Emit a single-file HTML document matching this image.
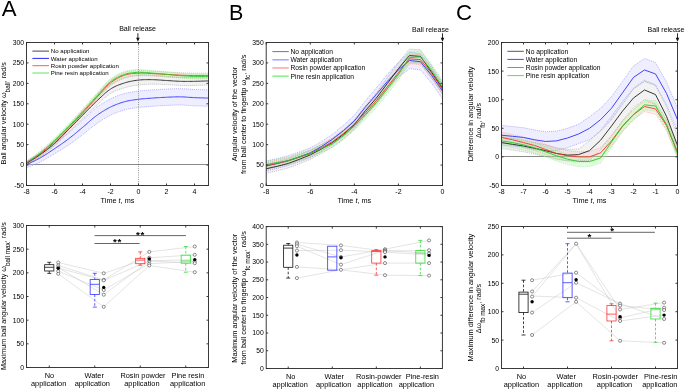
<!DOCTYPE html>
<html><head><meta charset="utf-8"><style>
html,body{margin:0;padding:0;background:#fff}
body{width:685px;height:390px;overflow:hidden}
svg{display:block;filter:blur(0.3px)}
text{font-family:"Liberation Sans", sans-serif;fill:#000}
</style></head><body>
<svg width="685" height="390" viewBox="0 0 685 390">
<rect width="685" height="390" fill="#fff"/>
<line x1="26.5" y1="164.5" x2="208.5" y2="164.5" stroke="#8a8a8a" stroke-width="1"/>
<polygon points="26.5,161.39 27.18,161.03 28.02,160.57 29.02,160.05 30.13,159.46 31.34,158.81 32.62,158.13 33.96,157.4 35.31,156.66 36.67,155.9 38,155.13 39.29,154.37 40.5,153.63 41.67,152.89 42.83,152.12 44,151.34 45.17,150.54 46.33,149.73 47.5,148.91 48.67,148.07 49.83,147.23 51,146.38 52.17,145.53 53.33,144.68 54.5,143.83 55.67,142.94 56.83,142.05 58,141.16 59.17,140.27 60.33,139.37 61.5,138.46 62.67,137.55 63.83,136.62 65,135.69 66.17,134.74 67.33,133.77 68.5,132.79 69.67,131.8 70.83,130.78 72,129.75 73.17,128.71 74.33,127.65 75.5,126.59 76.67,125.52 77.83,124.44 79,123.36 80.17,122.28 81.33,121.2 82.5,120.13 83.67,119.08 84.83,118 86,116.91 87.17,115.82 88.33,114.71 89.5,113.62 90.67,112.53 91.83,111.46 93,110.41 94.17,109.39 95.33,108.41 96.5,107.46 97.67,106.62 98.83,105.81 100,105.01 101.17,104.24 102.33,103.49 103.5,102.76 104.67,102.06 105.83,101.38 107,100.72 108.17,100.09 109.33,99.47 110.5,98.88 111.67,98.32 112.83,97.78 114,97.26 115.17,96.76 116.33,96.29 117.5,95.84 118.67,95.42 119.83,95.01 121,94.62 122.17,94.25 123.33,93.9 124.5,93.57 125.67,93.26 126.83,92.98 128,92.73 129.17,92.5 130.33,92.29 131.5,92.09 132.67,91.91 133.83,91.74 135,91.58 136.17,91.42 137.33,91.27 138.5,91.12 139.67,90.97 140.83,90.84 142,90.72 143.17,90.61 144.33,90.5 145.5,90.41 146.67,90.31 147.83,90.23 149,90.14 150.17,90.06 151.33,89.98 152.5,89.89 153.67,89.81 154.83,89.73 156,89.65 157.17,89.58 158.33,89.5 159.5,89.43 160.67,89.37 161.83,89.3 163,89.24 164.17,89.18 165.33,89.13 166.5,89.08 167.67,89.02 168.83,88.97 170,88.92 171.17,88.87 172.33,88.82 173.5,88.77 174.67,88.73 175.83,88.7 177,88.67 178.17,88.66 179.33,88.66 180.5,88.67 181.67,88.7 182.83,88.74 184,88.8 185.17,88.87 186.33,88.94 187.5,89.03 188.67,89.11 189.83,89.2 191,89.28 192.17,89.36 193.33,89.43 194.5,89.49 195.83,89.54 197.23,89.59 198.7,89.64 200.18,89.68 201.65,89.72 203.08,89.76 204.44,89.79 205.69,89.82 206.81,89.85 207.75,89.87 208.5,89.89 208.5,106.24 207.75,106.22 206.81,106.19 205.69,106.17 204.44,106.14 203.08,106.1 201.65,106.06 200.18,106.02 198.7,105.98 197.23,105.93 195.83,105.88 194.5,105.83 193.33,105.77 192.17,105.7 191,105.62 189.83,105.54 188.67,105.45 187.5,105.37 186.33,105.29 185.17,105.21 184,105.14 182.83,105.08 181.67,105.04 180.5,105.01 179.33,105 178.17,105 177,105.02 175.83,105.04 174.67,105.07 173.5,105.11 172.33,105.16 171.17,105.21 170,105.26 168.83,105.31 167.67,105.37 166.5,105.42 165.33,105.47 164.17,105.53 163,105.59 161.83,105.65 160.67,105.71 159.5,105.78 158.33,105.85 157.17,105.92 156,105.99 154.83,106.07 153.67,106.15 152.5,106.24 151.33,106.32 150.17,106.4 149,106.49 147.83,106.57 146.67,106.66 145.5,106.75 144.33,106.84 143.17,106.95 142,107.06 140.83,107.18 139.67,107.32 138.5,107.46 137.33,107.62 136.17,107.77 135,107.92 133.83,108.08 132.67,108.25 131.5,108.43 130.33,108.63 129.17,108.84 128,109.07 126.83,109.33 125.67,109.61 124.5,109.91 123.33,110.25 122.17,110.6 121,110.96 119.83,111.35 118.67,111.76 117.5,112.19 116.33,112.64 115.17,113.11 114,113.6 112.83,114.12 111.67,114.66 110.5,115.23 109.33,115.82 108.17,116.43 107,117.06 105.83,117.72 104.67,118.4 103.5,119.11 102.33,119.83 101.17,120.58 100,121.35 98.83,122.15 97.67,122.97 96.5,123.81 95.33,124.61 94.17,125.46 93,126.34 91.83,127.26 90.67,128.19 89.5,129.14 88.33,130.1 87.17,131.07 86,132.03 84.83,132.98 83.67,133.92 82.5,134.84 81.33,135.71 80.17,136.58 79,137.46 77.83,138.33 76.67,139.2 75.5,140.07 74.33,140.93 73.17,141.78 72,142.62 70.83,143.45 69.67,144.26 68.5,145.05 67.33,145.83 66.17,146.59 65,147.33 63.83,148.06 62.67,148.78 61.5,149.49 60.33,150.2 59.17,150.89 58,151.58 56.83,152.27 55.67,152.95 54.5,153.63 53.33,154.35 52.17,155.06 51,155.78 49.83,156.49 48.67,157.2 47.5,157.9 46.33,158.58 45.17,159.26 44,159.92 42.83,160.57 41.67,161.2 40.5,161.8 39.29,162.4 38,163.01 36.67,163.62 35.31,164.22 33.96,164.81 32.62,165.38 31.34,165.92 30.13,166.42 29.02,166.88 28.02,167.29 27.18,167.64 26.5,167.93" fill="rgba(205,205,255,0.35)" stroke="none"/>
<polygon points="26.5,161.8 27.18,161.36 28.02,160.8 29.02,160.16 30.13,159.44 31.34,158.66 32.62,157.82 33.96,156.94 35.31,156.04 36.67,155.12 38,154.2 39.29,153.29 40.5,152.41 41.67,151.53 42.83,150.65 44,149.76 45.17,148.85 46.33,147.93 47.5,146.99 48.67,146.04 49.83,145.07 51,144.07 52.17,143.06 53.33,142.03 54.5,140.97 55.67,139.88 56.83,138.75 58,137.6 59.17,136.43 60.33,135.23 61.5,134.02 62.67,132.8 63.83,131.57 65,130.34 66.17,129.11 67.33,127.88 68.5,126.67 69.67,125.42 70.83,124.17 72,122.91 73.17,121.64 74.33,120.38 75.5,119.11 76.67,117.84 77.83,116.57 79,115.31 80.17,114.05 81.33,112.8 82.5,111.55 83.67,110.34 84.83,109.12 86,107.91 87.17,106.69 88.33,105.48 89.5,104.27 90.67,103.07 91.83,101.88 93,100.7 94.17,99.53 95.33,98.38 96.5,97.25 97.67,96.12 98.83,94.97 100,93.82 101.17,92.68 102.33,91.55 103.5,90.43 104.67,89.34 105.83,88.29 107,87.28 108.17,86.32 109.33,85.42 110.5,84.58 111.67,83.81 112.83,83.1 114,82.44 115.17,81.83 116.33,81.26 117.5,80.73 118.67,80.23 119.83,79.76 121,79.31 122.17,78.88 123.33,78.46 124.5,78.05 125.67,77.69 126.83,77.35 128,77.04 129.17,76.76 130.33,76.5 131.5,76.26 132.67,76.04 133.83,75.84 135,75.65 136.17,75.48 137.33,75.33 138.5,75.19 139.67,75.1 140.83,75.03 142,74.98 143.17,74.96 144.33,74.95 145.5,74.96 146.67,74.97 147.83,75 149,75.04 150.17,75.09 151.33,75.13 152.5,75.19 153.67,75.24 154.83,75.32 156,75.41 157.17,75.5 158.33,75.61 159.5,75.72 160.67,75.84 161.83,75.96 163,76.08 164.17,76.19 165.33,76.31 166.5,76.41 167.67,76.48 168.83,76.56 170,76.63 171.17,76.71 172.33,76.79 173.5,76.87 174.67,76.95 175.83,77.02 177,77.08 178.17,77.14 179.33,77.19 180.5,77.23 181.67,77.26 182.83,77.28 184,77.3 185.17,77.3 186.33,77.31 187.5,77.31 188.67,77.3 189.83,77.29 191,77.28 192.17,77.26 193.33,77.25 194.5,77.23 195.83,77.21 197.23,77.17 198.7,77.14 200.18,77.09 201.65,77.05 203.08,77 204.44,76.96 205.69,76.91 206.81,76.87 207.75,76.84 208.5,76.82 208.5,84.99 207.75,85.01 206.81,85.05 205.69,85.08 204.44,85.13 203.08,85.17 201.65,85.22 200.18,85.26 198.7,85.31 197.23,85.35 195.83,85.38 194.5,85.4 193.33,85.42 192.17,85.43 191,85.45 189.83,85.46 188.67,85.47 187.5,85.48 186.33,85.48 185.17,85.48 184,85.47 182.83,85.45 181.67,85.43 180.5,85.4 179.33,85.36 178.17,85.31 177,85.25 175.83,85.19 174.67,85.12 173.5,85.04 172.33,84.96 171.17,84.89 170,84.81 168.83,84.73 167.67,84.65 166.5,84.58 165.33,84.54 164.17,84.5 163,84.45 161.83,84.4 160.67,84.35 159.5,84.3 158.33,84.26 157.17,84.22 156,84.19 154.83,84.17 153.67,84.17 152.5,84.17 151.33,84.19 150.17,84.21 149,84.23 147.83,84.27 146.67,84.3 145.5,84.35 144.33,84.42 143.17,84.49 142,84.59 140.83,84.7 139.67,84.83 138.5,84.99 137.33,85.13 136.17,85.29 135,85.46 133.83,85.64 132.67,85.84 131.5,86.06 130.33,86.3 129.17,86.57 128,86.85 126.83,87.16 125.67,87.49 124.5,87.85 123.33,88.19 122.17,88.54 121,88.91 119.83,89.29 118.67,89.69 117.5,90.12 116.33,90.59 115.17,91.09 114,91.63 112.83,92.23 111.67,92.87 110.5,93.57 109.33,94.34 108.17,95.17 107,96.06 105.83,97.01 104.67,97.99 103.5,99.01 102.33,100.06 101.17,101.12 100,102.2 98.83,103.28 97.67,104.36 96.5,105.42 95.33,106.49 94.17,107.57 93,108.67 91.83,109.78 90.67,110.9 89.5,112.03 88.33,113.17 87.17,114.32 86,115.47 84.83,116.61 83.67,117.76 82.5,118.9 81.33,120.01 80.17,121.13 79,122.25 77.83,123.38 76.67,124.51 75.5,125.64 74.33,126.78 73.17,127.91 72,129.03 70.83,130.16 69.67,131.28 68.5,132.39 67.33,133.53 66.17,134.69 65,135.85 63.83,137.02 62.67,138.18 61.5,139.33 60.33,140.47 59.17,141.6 58,142.71 56.83,143.79 55.67,144.85 54.5,145.87 53.33,146.86 52.17,147.83 51,148.77 49.83,149.7 48.67,150.6 47.5,151.49 46.33,152.35 45.17,153.21 44,154.05 42.83,154.87 41.67,155.69 40.5,156.49 39.29,157.31 38,158.14 36.67,158.98 35.31,159.82 33.96,160.65 32.62,161.45 31.34,162.21 30.13,162.92 29.02,163.58 28.02,164.16 27.18,164.66 26.5,165.07" fill="rgba(170,170,170,0.15)" stroke="none"/>
<polygon points="26.5,161.39 27.18,160.93 28.02,160.36 29.02,159.69 30.13,158.94 31.34,158.13 32.62,157.26 33.96,156.34 35.31,155.4 36.67,154.44 38,153.48 39.29,152.52 40.5,151.59 41.67,150.66 42.83,149.71 44,148.74 45.17,147.76 46.33,146.76 47.5,145.74 48.67,144.71 49.83,143.66 51,142.6 52.17,141.52 53.33,140.43 54.5,139.33 55.67,138.25 56.83,137.14 58,136.02 59.17,134.88 60.33,133.73 61.5,132.56 62.67,131.39 63.83,130.21 65,129.02 66.17,127.83 67.33,126.63 68.5,125.44 69.67,124.21 70.83,122.98 72,121.74 73.17,120.49 74.33,119.24 75.5,117.98 76.67,116.72 77.83,115.45 79,114.18 80.17,112.9 81.33,111.61 82.5,110.32 83.67,109.06 84.83,107.77 86,106.48 87.17,105.18 88.33,103.87 89.5,102.56 90.67,101.25 91.83,99.94 93,98.64 94.17,97.35 95.33,96.06 96.5,94.8 97.67,93.52 98.83,92.22 100,90.9 101.17,89.58 102.33,88.26 103.5,86.96 104.67,85.68 105.83,84.45 107,83.26 108.17,82.13 109.33,81.07 110.5,80.09 111.67,79.18 112.83,78.33 114,77.53 115.17,76.77 116.33,76.07 117.5,75.42 118.67,74.8 119.83,74.23 121,73.7 122.17,73.21 123.33,72.75 124.5,72.33 125.67,71.98 126.83,71.69 128,71.46 129.17,71.27 130.33,71.12 131.5,71 132.67,70.91 133.83,70.84 135,70.79 136.17,70.76 137.33,70.72 138.5,70.69 139.67,70.64 140.83,70.61 142,70.61 143.17,70.63 144.33,70.67 145.5,70.72 146.67,70.78 147.83,70.84 149,70.91 150.17,70.98 151.33,71.04 152.5,71.1 153.67,71.15 154.83,71.21 156,71.28 157.17,71.34 158.33,71.41 159.5,71.48 160.67,71.56 161.83,71.63 163,71.7 164.17,71.78 165.33,71.85 166.5,71.92 167.67,71.99 168.83,72.06 170,72.13 171.17,72.2 172.33,72.28 173.5,72.35 174.67,72.42 175.83,72.49 177,72.56 178.17,72.62 179.33,72.68 180.5,72.73 181.67,72.78 182.83,72.83 184,72.87 185.17,72.92 186.33,72.95 187.5,72.99 188.67,73.02 189.83,73.05 191,73.08 192.17,73.1 193.33,73.12 194.5,73.14 195.83,73.16 197.23,73.17 198.7,73.17 200.18,73.17 201.65,73.17 203.08,73.17 204.44,73.16 205.69,73.15 206.81,73.15 207.75,73.14 208.5,73.14 208.5,78.05 207.75,78.05 206.81,78.05 205.69,78.06 204.44,78.06 203.08,78.07 201.65,78.07 200.18,78.08 198.7,78.08 197.23,78.07 195.83,78.06 194.5,78.05 193.33,78.03 192.17,78.01 191,77.98 189.83,77.95 188.67,77.93 187.5,77.89 186.33,77.86 185.17,77.82 184,77.78 182.83,77.73 181.67,77.69 180.5,77.64 179.33,77.58 178.17,77.52 177,77.46 175.83,77.4 174.67,77.33 173.5,77.25 172.33,77.18 171.17,77.11 170,77.03 168.83,76.96 167.67,76.89 166.5,76.82 165.33,76.75 164.17,76.68 163,76.61 161.83,76.53 160.67,76.46 159.5,76.39 158.33,76.31 157.17,76.24 156,76.18 154.83,76.12 153.67,76.06 152.5,76 151.33,75.95 150.17,75.88 149,75.81 147.83,75.75 146.67,75.68 145.5,75.62 144.33,75.57 143.17,75.53 142,75.51 140.83,75.52 139.67,75.54 138.5,75.59 137.33,75.69 136.17,75.79 135,75.9 133.83,76.02 132.67,76.15 131.5,76.31 130.33,76.49 129.17,76.71 128,76.97 126.83,77.28 125.67,77.63 124.5,78.05 123.33,78.47 122.17,78.93 121,79.42 119.83,79.95 118.67,80.52 117.5,81.14 116.33,81.79 115.17,82.49 114,83.25 112.83,84.05 111.67,84.9 110.5,85.81 109.33,86.79 108.17,87.85 107,88.98 105.83,90.17 104.67,91.4 103.5,92.68 102.33,93.98 101.17,95.3 100,96.62 98.83,97.94 97.67,99.24 96.5,100.52 95.33,101.78 94.17,103.07 93,104.36 91.83,105.66 90.67,106.97 89.5,108.28 88.33,109.59 87.17,110.9 86,112.2 84.83,113.49 83.67,114.78 82.5,116.04 81.33,117.27 80.17,118.48 79,119.69 77.83,120.9 76.67,122.1 75.5,123.3 74.33,124.48 73.17,125.67 72,126.84 70.83,128.02 69.67,129.18 68.5,130.34 67.33,131.54 66.17,132.73 65,133.92 63.83,135.11 62.67,136.29 61.5,137.47 60.33,138.63 59.17,139.79 58,140.92 56.83,142.05 55.67,143.15 54.5,144.23 53.33,145.27 52.17,146.29 51,147.3 49.83,148.29 48.67,149.27 47.5,150.24 46.33,151.18 45.17,152.12 44,153.03 42.83,153.93 41.67,154.81 40.5,155.67 39.29,156.54 38,157.42 36.67,158.3 35.31,159.18 33.96,160.05 32.62,160.88 31.34,161.68 30.13,162.42 29.02,163.11 28.02,163.71 27.18,164.24 26.5,164.66" fill="rgba(255,170,170,0.25)" stroke="none"/>
<polygon points="26.5,160.99 27.18,160.5 28.02,159.9 29.02,159.21 30.13,158.43 31.34,157.58 32.62,156.67 33.96,155.72 35.31,154.74 36.67,153.74 38,152.73 39.29,151.74 40.5,150.77 41.67,149.81 42.83,148.82 44,147.82 45.17,146.79 46.33,145.75 47.5,144.69 48.67,143.62 49.83,142.54 51,141.44 52.17,140.34 53.33,139.23 54.5,138.11 55.67,137.01 56.83,135.89 58,134.77 59.17,133.63 60.33,132.47 61.5,131.31 62.67,130.14 63.83,128.97 65,127.78 66.17,126.6 67.33,125.41 68.5,124.21 69.67,122.99 70.83,121.75 72,120.51 73.17,119.27 74.33,118.01 75.5,116.76 76.67,115.5 77.83,114.23 79,112.95 80.17,111.67 81.33,110.39 82.5,109.1 83.67,107.83 84.83,106.55 86,105.25 87.17,103.95 88.33,102.64 89.5,101.33 90.67,100.02 91.83,98.72 93,97.41 94.17,96.12 95.33,94.84 96.5,93.57 97.67,92.29 98.83,90.99 100,89.66 101.17,88.34 102.33,87.01 103.5,85.71 104.67,84.43 105.83,83.19 107,82 108.17,80.88 109.33,79.83 110.5,78.86 111.67,77.98 112.83,77.15 114,76.38 115.17,75.67 116.33,75.01 117.5,74.39 118.67,73.82 119.83,73.29 121,72.8 122.17,72.34 123.33,71.91 124.5,71.51 125.67,71.14 126.83,70.83 128,70.56 129.17,70.33 130.33,70.14 131.5,69.98 132.67,69.85 133.83,69.74 135,69.65 136.17,69.58 137.33,69.52 138.5,69.47 139.67,69.47 140.83,69.5 142,69.56 143.17,69.65 144.33,69.75 145.5,69.87 146.67,70.01 147.83,70.15 149,70.29 150.17,70.43 151.33,70.57 152.5,70.69 153.67,70.78 154.83,70.87 156,70.97 157.17,71.07 158.33,71.17 159.5,71.28 160.67,71.39 161.83,71.49 163,71.6 164.17,71.71 165.33,71.81 166.5,71.92 167.67,72.02 168.83,72.13 170,72.23 171.17,72.34 172.33,72.45 173.5,72.56 174.67,72.66 175.83,72.76 177,72.87 178.17,72.96 179.33,73.06 180.5,73.14 181.67,73.23 182.83,73.31 184,73.4 185.17,73.48 186.33,73.55 187.5,73.63 188.67,73.7 189.83,73.76 191,73.82 192.17,73.88 193.33,73.92 194.5,73.96 195.83,73.99 197.23,74.01 198.7,74.02 200.18,74.02 201.65,74.02 203.08,74.01 204.44,73.99 205.69,73.98 206.81,73.97 207.75,73.96 208.5,73.96 208.5,78.86 207.75,78.87 206.81,78.87 205.69,78.88 204.44,78.9 203.08,78.91 201.65,78.92 200.18,78.92 198.7,78.92 197.23,78.91 195.83,78.89 194.5,78.86 193.33,78.82 192.17,78.78 191,78.73 189.83,78.67 188.67,78.6 187.5,78.53 186.33,78.46 185.17,78.38 184,78.3 182.83,78.22 181.67,78.13 180.5,78.05 179.33,77.96 178.17,77.87 177,77.77 175.83,77.67 174.67,77.56 173.5,77.46 172.33,77.35 171.17,77.24 170,77.14 168.83,77.03 167.67,76.92 166.5,76.82 165.33,76.72 164.17,76.61 163,76.5 161.83,76.4 160.67,76.29 159.5,76.18 158.33,76.08 157.17,75.97 156,75.87 154.83,75.77 153.67,75.68 152.5,75.59 151.33,75.54 150.17,75.47 149,75.4 147.83,75.32 146.67,75.25 145.5,75.19 144.33,75.13 143.17,75.09 142,75.08 140.83,75.08 139.67,75.12 138.5,75.19 137.33,75.24 136.17,75.3 135,75.37 133.83,75.46 132.67,75.57 131.5,75.7 130.33,75.86 129.17,76.05 128,76.28 126.83,76.55 125.67,76.86 124.5,77.23 123.33,77.63 122.17,78.06 121,78.52 119.83,79.01 118.67,79.54 117.5,80.11 116.33,80.73 115.17,81.39 114,82.1 112.83,82.87 111.67,83.7 110.5,84.58 109.33,85.55 108.17,86.6 107,87.72 105.83,88.91 104.67,90.15 103.5,91.43 102.33,92.73 101.17,94.06 100,95.38 98.83,96.71 97.67,98.01 96.5,99.29 95.33,100.56 94.17,101.84 93,103.13 91.83,104.44 90.67,105.74 89.5,107.05 88.33,108.36 87.17,109.67 86,110.97 84.83,112.27 83.67,113.55 82.5,114.82 81.33,116.04 80.17,117.26 79,118.47 77.83,119.67 76.67,120.87 75.5,122.07 74.33,123.26 73.17,124.44 72,125.62 70.83,126.79 69.67,127.96 68.5,129.12 67.33,130.31 66.17,131.5 65,132.69 63.83,133.87 62.67,135.05 61.5,136.22 60.33,137.38 59.17,138.53 58,139.67 56.83,140.8 55.67,141.91 54.5,143.01 53.33,144.06 52.17,145.11 51,146.14 49.83,147.17 48.67,148.19 47.5,149.19 46.33,150.18 45.17,151.15 44,152.11 42.83,153.04 41.67,153.96 40.5,154.86 39.29,155.76 38,156.67 36.67,157.6 35.31,158.52 33.96,159.42 32.62,160.3 31.34,161.13 30.13,161.91 29.02,162.62 28.02,163.26 27.18,163.81 26.5,164.25" fill="rgba(150,255,150,0.35)" stroke="none"/>
<polyline points="26.5,161.39 27.18,161.03 28.02,160.57 29.02,160.05 30.13,159.46 31.34,158.81 32.62,158.13 33.96,157.4 35.31,156.66 36.67,155.9 38,155.13 39.29,154.37 40.5,153.63 41.67,152.89 42.83,152.12 44,151.34 45.17,150.54 46.33,149.73 47.5,148.91 48.67,148.07 49.83,147.23 51,146.38 52.17,145.53 53.33,144.68 54.5,143.83 55.67,142.94 56.83,142.05 58,141.16 59.17,140.27 60.33,139.37 61.5,138.46 62.67,137.55 63.83,136.62 65,135.69 66.17,134.74 67.33,133.77 68.5,132.79 69.67,131.8 70.83,130.78 72,129.75 73.17,128.71 74.33,127.65 75.5,126.59 76.67,125.52 77.83,124.44 79,123.36 80.17,122.28 81.33,121.2 82.5,120.13 83.67,119.08 84.83,118 86,116.91 87.17,115.82 88.33,114.71 89.5,113.62 90.67,112.53 91.83,111.46 93,110.41 94.17,109.39 95.33,108.41 96.5,107.46 97.67,106.62 98.83,105.81 100,105.01 101.17,104.24 102.33,103.49 103.5,102.76 104.67,102.06 105.83,101.38 107,100.72 108.17,100.09 109.33,99.47 110.5,98.88 111.67,98.32 112.83,97.78 114,97.26 115.17,96.76 116.33,96.29 117.5,95.84 118.67,95.42 119.83,95.01 121,94.62 122.17,94.25 123.33,93.9 124.5,93.57 125.67,93.26 126.83,92.98 128,92.73 129.17,92.5 130.33,92.29 131.5,92.09 132.67,91.91 133.83,91.74 135,91.58 136.17,91.42 137.33,91.27 138.5,91.12 139.67,90.97 140.83,90.84 142,90.72 143.17,90.61 144.33,90.5 145.5,90.41 146.67,90.31 147.83,90.23 149,90.14 150.17,90.06 151.33,89.98 152.5,89.89 153.67,89.81 154.83,89.73 156,89.65 157.17,89.58 158.33,89.5 159.5,89.43 160.67,89.37 161.83,89.3 163,89.24 164.17,89.18 165.33,89.13 166.5,89.08 167.67,89.02 168.83,88.97 170,88.92 171.17,88.87 172.33,88.82 173.5,88.77 174.67,88.73 175.83,88.7 177,88.67 178.17,88.66 179.33,88.66 180.5,88.67 181.67,88.7 182.83,88.74 184,88.8 185.17,88.87 186.33,88.94 187.5,89.03 188.67,89.11 189.83,89.2 191,89.28 192.17,89.36 193.33,89.43 194.5,89.49 195.83,89.54 197.23,89.59 198.7,89.64 200.18,89.68 201.65,89.72 203.08,89.76 204.44,89.79 205.69,89.82 206.81,89.85 207.75,89.87 208.5,89.89" fill="none" stroke="#8080ff" stroke-width="0.6" stroke-dasharray="1 1"/>
<polyline points="26.5,167.93 27.18,167.64 28.02,167.29 29.02,166.88 30.13,166.42 31.34,165.92 32.62,165.38 33.96,164.81 35.31,164.22 36.67,163.62 38,163.01 39.29,162.4 40.5,161.8 41.67,161.2 42.83,160.57 44,159.92 45.17,159.26 46.33,158.58 47.5,157.9 48.67,157.2 49.83,156.49 51,155.78 52.17,155.06 53.33,154.35 54.5,153.63 55.67,152.95 56.83,152.27 58,151.58 59.17,150.89 60.33,150.2 61.5,149.49 62.67,148.78 63.83,148.06 65,147.33 66.17,146.59 67.33,145.83 68.5,145.05 69.67,144.26 70.83,143.45 72,142.62 73.17,141.78 74.33,140.93 75.5,140.07 76.67,139.2 77.83,138.33 79,137.46 80.17,136.58 81.33,135.71 82.5,134.84 83.67,133.92 84.83,132.98 86,132.03 87.17,131.07 88.33,130.1 89.5,129.14 90.67,128.19 91.83,127.26 93,126.34 94.17,125.46 95.33,124.61 96.5,123.81 97.67,122.97 98.83,122.15 100,121.35 101.17,120.58 102.33,119.83 103.5,119.11 104.67,118.4 105.83,117.72 107,117.06 108.17,116.43 109.33,115.82 110.5,115.23 111.67,114.66 112.83,114.12 114,113.6 115.17,113.11 116.33,112.64 117.5,112.19 118.67,111.76 119.83,111.35 121,110.96 122.17,110.6 123.33,110.25 124.5,109.91 125.67,109.61 126.83,109.33 128,109.07 129.17,108.84 130.33,108.63 131.5,108.43 132.67,108.25 133.83,108.08 135,107.92 136.17,107.77 137.33,107.62 138.5,107.46 139.67,107.32 140.83,107.18 142,107.06 143.17,106.95 144.33,106.84 145.5,106.75 146.67,106.66 147.83,106.57 149,106.49 150.17,106.4 151.33,106.32 152.5,106.24 153.67,106.15 154.83,106.07 156,105.99 157.17,105.92 158.33,105.85 159.5,105.78 160.67,105.71 161.83,105.65 163,105.59 164.17,105.53 165.33,105.47 166.5,105.42 167.67,105.37 168.83,105.31 170,105.26 171.17,105.21 172.33,105.16 173.5,105.11 174.67,105.07 175.83,105.04 177,105.02 178.17,105 179.33,105 180.5,105.01 181.67,105.04 182.83,105.08 184,105.14 185.17,105.21 186.33,105.29 187.5,105.37 188.67,105.45 189.83,105.54 191,105.62 192.17,105.7 193.33,105.77 194.5,105.83 195.83,105.88 197.23,105.93 198.7,105.98 200.18,106.02 201.65,106.06 203.08,106.1 204.44,106.14 205.69,106.17 206.81,106.19 207.75,106.22 208.5,106.24" fill="none" stroke="#8080ff" stroke-width="0.6" stroke-dasharray="1 1"/>
<polyline points="26.5,161.8 27.18,161.36 28.02,160.8 29.02,160.16 30.13,159.44 31.34,158.66 32.62,157.82 33.96,156.94 35.31,156.04 36.67,155.12 38,154.2 39.29,153.29 40.5,152.41 41.67,151.53 42.83,150.65 44,149.76 45.17,148.85 46.33,147.93 47.5,146.99 48.67,146.04 49.83,145.07 51,144.07 52.17,143.06 53.33,142.03 54.5,140.97 55.67,139.88 56.83,138.75 58,137.6 59.17,136.43 60.33,135.23 61.5,134.02 62.67,132.8 63.83,131.57 65,130.34 66.17,129.11 67.33,127.88 68.5,126.67 69.67,125.42 70.83,124.17 72,122.91 73.17,121.64 74.33,120.38 75.5,119.11 76.67,117.84 77.83,116.57 79,115.31 80.17,114.05 81.33,112.8 82.5,111.55 83.67,110.34 84.83,109.12 86,107.91 87.17,106.69 88.33,105.48 89.5,104.27 90.67,103.07 91.83,101.88 93,100.7 94.17,99.53 95.33,98.38 96.5,97.25 97.67,96.12 98.83,94.97 100,93.82 101.17,92.68 102.33,91.55 103.5,90.43 104.67,89.34 105.83,88.29 107,87.28 108.17,86.32 109.33,85.42 110.5,84.58 111.67,83.81 112.83,83.1 114,82.44 115.17,81.83 116.33,81.26 117.5,80.73 118.67,80.23 119.83,79.76 121,79.31 122.17,78.88 123.33,78.46 124.5,78.05 125.67,77.69 126.83,77.35 128,77.04 129.17,76.76 130.33,76.5 131.5,76.26 132.67,76.04 133.83,75.84 135,75.65 136.17,75.48 137.33,75.33 138.5,75.19 139.67,75.1 140.83,75.03 142,74.98 143.17,74.96 144.33,74.95 145.5,74.96 146.67,74.97 147.83,75 149,75.04 150.17,75.09 151.33,75.13 152.5,75.19 153.67,75.24 154.83,75.32 156,75.41 157.17,75.5 158.33,75.61 159.5,75.72 160.67,75.84 161.83,75.96 163,76.08 164.17,76.19 165.33,76.31 166.5,76.41 167.67,76.48 168.83,76.56 170,76.63 171.17,76.71 172.33,76.79 173.5,76.87 174.67,76.95 175.83,77.02 177,77.08 178.17,77.14 179.33,77.19 180.5,77.23 181.67,77.26 182.83,77.28 184,77.3 185.17,77.3 186.33,77.31 187.5,77.31 188.67,77.3 189.83,77.29 191,77.28 192.17,77.26 193.33,77.25 194.5,77.23 195.83,77.21 197.23,77.17 198.7,77.14 200.18,77.09 201.65,77.05 203.08,77 204.44,76.96 205.69,76.91 206.81,76.87 207.75,76.84 208.5,76.82" fill="none" stroke="#999" stroke-width="0.6" stroke-dasharray="1 1"/>
<polyline points="26.5,165.07 27.18,164.66 28.02,164.16 29.02,163.58 30.13,162.92 31.34,162.21 32.62,161.45 33.96,160.65 35.31,159.82 36.67,158.98 38,158.14 39.29,157.31 40.5,156.49 41.67,155.69 42.83,154.87 44,154.05 45.17,153.21 46.33,152.35 47.5,151.49 48.67,150.6 49.83,149.7 51,148.77 52.17,147.83 53.33,146.86 54.5,145.87 55.67,144.85 56.83,143.79 58,142.71 59.17,141.6 60.33,140.47 61.5,139.33 62.67,138.18 63.83,137.02 65,135.85 66.17,134.69 67.33,133.53 68.5,132.39 69.67,131.28 70.83,130.16 72,129.03 73.17,127.91 74.33,126.78 75.5,125.64 76.67,124.51 77.83,123.38 79,122.25 80.17,121.13 81.33,120.01 82.5,118.9 83.67,117.76 84.83,116.61 86,115.47 87.17,114.32 88.33,113.17 89.5,112.03 90.67,110.9 91.83,109.78 93,108.67 94.17,107.57 95.33,106.49 96.5,105.42 97.67,104.36 98.83,103.28 100,102.2 101.17,101.12 102.33,100.06 103.5,99.01 104.67,97.99 105.83,97.01 107,96.06 108.17,95.17 109.33,94.34 110.5,93.57 111.67,92.87 112.83,92.23 114,91.63 115.17,91.09 116.33,90.59 117.5,90.12 118.67,89.69 119.83,89.29 121,88.91 122.17,88.54 123.33,88.19 124.5,87.85 125.67,87.49 126.83,87.16 128,86.85 129.17,86.57 130.33,86.3 131.5,86.06 132.67,85.84 133.83,85.64 135,85.46 136.17,85.29 137.33,85.13 138.5,84.99 139.67,84.83 140.83,84.7 142,84.59 143.17,84.49 144.33,84.42 145.5,84.35 146.67,84.3 147.83,84.27 149,84.23 150.17,84.21 151.33,84.19 152.5,84.17 153.67,84.17 154.83,84.17 156,84.19 157.17,84.22 158.33,84.26 159.5,84.3 160.67,84.35 161.83,84.4 163,84.45 164.17,84.5 165.33,84.54 166.5,84.58 167.67,84.65 168.83,84.73 170,84.81 171.17,84.89 172.33,84.96 173.5,85.04 174.67,85.12 175.83,85.19 177,85.25 178.17,85.31 179.33,85.36 180.5,85.4 181.67,85.43 182.83,85.45 184,85.47 185.17,85.48 186.33,85.48 187.5,85.48 188.67,85.47 189.83,85.46 191,85.45 192.17,85.43 193.33,85.42 194.5,85.4 195.83,85.38 197.23,85.35 198.7,85.31 200.18,85.26 201.65,85.22 203.08,85.17 204.44,85.13 205.69,85.08 206.81,85.05 207.75,85.01 208.5,84.99" fill="none" stroke="#999" stroke-width="0.6" stroke-dasharray="1 1"/>
<polyline points="26.5,161.39 27.18,160.93 28.02,160.36 29.02,159.69 30.13,158.94 31.34,158.13 32.62,157.26 33.96,156.34 35.31,155.4 36.67,154.44 38,153.48 39.29,152.52 40.5,151.59 41.67,150.66 42.83,149.71 44,148.74 45.17,147.76 46.33,146.76 47.5,145.74 48.67,144.71 49.83,143.66 51,142.6 52.17,141.52 53.33,140.43 54.5,139.33 55.67,138.25 56.83,137.14 58,136.02 59.17,134.88 60.33,133.73 61.5,132.56 62.67,131.39 63.83,130.21 65,129.02 66.17,127.83 67.33,126.63 68.5,125.44 69.67,124.21 70.83,122.98 72,121.74 73.17,120.49 74.33,119.24 75.5,117.98 76.67,116.72 77.83,115.45 79,114.18 80.17,112.9 81.33,111.61 82.5,110.32 83.67,109.06 84.83,107.77 86,106.48 87.17,105.18 88.33,103.87 89.5,102.56 90.67,101.25 91.83,99.94 93,98.64 94.17,97.35 95.33,96.06 96.5,94.8 97.67,93.52 98.83,92.22 100,90.9 101.17,89.58 102.33,88.26 103.5,86.96 104.67,85.68 105.83,84.45 107,83.26 108.17,82.13 109.33,81.07 110.5,80.09 111.67,79.18 112.83,78.33 114,77.53 115.17,76.77 116.33,76.07 117.5,75.42 118.67,74.8 119.83,74.23 121,73.7 122.17,73.21 123.33,72.75 124.5,72.33 125.67,71.98 126.83,71.69 128,71.46 129.17,71.27 130.33,71.12 131.5,71 132.67,70.91 133.83,70.84 135,70.79 136.17,70.76 137.33,70.72 138.5,70.69 139.67,70.64 140.83,70.61 142,70.61 143.17,70.63 144.33,70.67 145.5,70.72 146.67,70.78 147.83,70.84 149,70.91 150.17,70.98 151.33,71.04 152.5,71.1 153.67,71.15 154.83,71.21 156,71.28 157.17,71.34 158.33,71.41 159.5,71.48 160.67,71.56 161.83,71.63 163,71.7 164.17,71.78 165.33,71.85 166.5,71.92 167.67,71.99 168.83,72.06 170,72.13 171.17,72.2 172.33,72.28 173.5,72.35 174.67,72.42 175.83,72.49 177,72.56 178.17,72.62 179.33,72.68 180.5,72.73 181.67,72.78 182.83,72.83 184,72.87 185.17,72.92 186.33,72.95 187.5,72.99 188.67,73.02 189.83,73.05 191,73.08 192.17,73.1 193.33,73.12 194.5,73.14 195.83,73.16 197.23,73.17 198.7,73.17 200.18,73.17 201.65,73.17 203.08,73.17 204.44,73.16 205.69,73.15 206.81,73.15 207.75,73.14 208.5,73.14" fill="none" stroke="#ff9090" stroke-width="0.6" stroke-dasharray="1 1"/>
<polyline points="26.5,164.66 27.18,164.24 28.02,163.71 29.02,163.11 30.13,162.42 31.34,161.68 32.62,160.88 33.96,160.05 35.31,159.18 36.67,158.3 38,157.42 39.29,156.54 40.5,155.67 41.67,154.81 42.83,153.93 44,153.03 45.17,152.12 46.33,151.18 47.5,150.24 48.67,149.27 49.83,148.29 51,147.3 52.17,146.29 53.33,145.27 54.5,144.23 55.67,143.15 56.83,142.05 58,140.92 59.17,139.79 60.33,138.63 61.5,137.47 62.67,136.29 63.83,135.11 65,133.92 66.17,132.73 67.33,131.54 68.5,130.34 69.67,129.18 70.83,128.02 72,126.84 73.17,125.67 74.33,124.48 75.5,123.3 76.67,122.1 77.83,120.9 79,119.69 80.17,118.48 81.33,117.27 82.5,116.04 83.67,114.78 84.83,113.49 86,112.2 87.17,110.9 88.33,109.59 89.5,108.28 90.67,106.97 91.83,105.66 93,104.36 94.17,103.07 95.33,101.78 96.5,100.52 97.67,99.24 98.83,97.94 100,96.62 101.17,95.3 102.33,93.98 103.5,92.68 104.67,91.4 105.83,90.17 107,88.98 108.17,87.85 109.33,86.79 110.5,85.81 111.67,84.9 112.83,84.05 114,83.25 115.17,82.49 116.33,81.79 117.5,81.14 118.67,80.52 119.83,79.95 121,79.42 122.17,78.93 123.33,78.47 124.5,78.05 125.67,77.63 126.83,77.28 128,76.97 129.17,76.71 130.33,76.49 131.5,76.31 132.67,76.15 133.83,76.02 135,75.9 136.17,75.79 137.33,75.69 138.5,75.59 139.67,75.54 140.83,75.52 142,75.51 143.17,75.53 144.33,75.57 145.5,75.62 146.67,75.68 147.83,75.75 149,75.81 150.17,75.88 151.33,75.95 152.5,76 153.67,76.06 154.83,76.12 156,76.18 157.17,76.24 158.33,76.31 159.5,76.39 160.67,76.46 161.83,76.53 163,76.61 164.17,76.68 165.33,76.75 166.5,76.82 167.67,76.89 168.83,76.96 170,77.03 171.17,77.11 172.33,77.18 173.5,77.25 174.67,77.33 175.83,77.4 177,77.46 178.17,77.52 179.33,77.58 180.5,77.64 181.67,77.69 182.83,77.73 184,77.78 185.17,77.82 186.33,77.86 187.5,77.89 188.67,77.93 189.83,77.95 191,77.98 192.17,78.01 193.33,78.03 194.5,78.05 195.83,78.06 197.23,78.07 198.7,78.08 200.18,78.08 201.65,78.07 203.08,78.07 204.44,78.06 205.69,78.06 206.81,78.05 207.75,78.05 208.5,78.05" fill="none" stroke="#ff9090" stroke-width="0.6" stroke-dasharray="1 1"/>
<polyline points="26.5,160.99 27.18,160.5 28.02,159.9 29.02,159.21 30.13,158.43 31.34,157.58 32.62,156.67 33.96,155.72 35.31,154.74 36.67,153.74 38,152.73 39.29,151.74 40.5,150.77 41.67,149.81 42.83,148.82 44,147.82 45.17,146.79 46.33,145.75 47.5,144.69 48.67,143.62 49.83,142.54 51,141.44 52.17,140.34 53.33,139.23 54.5,138.11 55.67,137.01 56.83,135.89 58,134.77 59.17,133.63 60.33,132.47 61.5,131.31 62.67,130.14 63.83,128.97 65,127.78 66.17,126.6 67.33,125.41 68.5,124.21 69.67,122.99 70.83,121.75 72,120.51 73.17,119.27 74.33,118.01 75.5,116.76 76.67,115.5 77.83,114.23 79,112.95 80.17,111.67 81.33,110.39 82.5,109.1 83.67,107.83 84.83,106.55 86,105.25 87.17,103.95 88.33,102.64 89.5,101.33 90.67,100.02 91.83,98.72 93,97.41 94.17,96.12 95.33,94.84 96.5,93.57 97.67,92.29 98.83,90.99 100,89.66 101.17,88.34 102.33,87.01 103.5,85.71 104.67,84.43 105.83,83.19 107,82 108.17,80.88 109.33,79.83 110.5,78.86 111.67,77.98 112.83,77.15 114,76.38 115.17,75.67 116.33,75.01 117.5,74.39 118.67,73.82 119.83,73.29 121,72.8 122.17,72.34 123.33,71.91 124.5,71.51 125.67,71.14 126.83,70.83 128,70.56 129.17,70.33 130.33,70.14 131.5,69.98 132.67,69.85 133.83,69.74 135,69.65 136.17,69.58 137.33,69.52 138.5,69.47 139.67,69.47 140.83,69.5 142,69.56 143.17,69.65 144.33,69.75 145.5,69.87 146.67,70.01 147.83,70.15 149,70.29 150.17,70.43 151.33,70.57 152.5,70.69 153.67,70.78 154.83,70.87 156,70.97 157.17,71.07 158.33,71.17 159.5,71.28 160.67,71.39 161.83,71.49 163,71.6 164.17,71.71 165.33,71.81 166.5,71.92 167.67,72.02 168.83,72.13 170,72.23 171.17,72.34 172.33,72.45 173.5,72.56 174.67,72.66 175.83,72.76 177,72.87 178.17,72.96 179.33,73.06 180.5,73.14 181.67,73.23 182.83,73.31 184,73.4 185.17,73.48 186.33,73.55 187.5,73.63 188.67,73.7 189.83,73.76 191,73.82 192.17,73.88 193.33,73.92 194.5,73.96 195.83,73.99 197.23,74.01 198.7,74.02 200.18,74.02 201.65,74.02 203.08,74.01 204.44,73.99 205.69,73.98 206.81,73.97 207.75,73.96 208.5,73.96" fill="none" stroke="#90e090" stroke-width="0.6" stroke-dasharray="1 1"/>
<polyline points="26.5,164.25 27.18,163.81 28.02,163.26 29.02,162.62 30.13,161.91 31.34,161.13 32.62,160.3 33.96,159.42 35.31,158.52 36.67,157.6 38,156.67 39.29,155.76 40.5,154.86 41.67,153.96 42.83,153.04 44,152.11 45.17,151.15 46.33,150.18 47.5,149.19 48.67,148.19 49.83,147.17 51,146.14 52.17,145.11 53.33,144.06 54.5,143.01 55.67,141.91 56.83,140.8 58,139.67 59.17,138.53 60.33,137.38 61.5,136.22 62.67,135.05 63.83,133.87 65,132.69 66.17,131.5 67.33,130.31 68.5,129.12 69.67,127.96 70.83,126.79 72,125.62 73.17,124.44 74.33,123.26 75.5,122.07 76.67,120.87 77.83,119.67 79,118.47 80.17,117.26 81.33,116.04 82.5,114.82 83.67,113.55 84.83,112.27 86,110.97 87.17,109.67 88.33,108.36 89.5,107.05 90.67,105.74 91.83,104.44 93,103.13 94.17,101.84 95.33,100.56 96.5,99.29 97.67,98.01 98.83,96.71 100,95.38 101.17,94.06 102.33,92.73 103.5,91.43 104.67,90.15 105.83,88.91 107,87.72 108.17,86.6 109.33,85.55 110.5,84.58 111.67,83.7 112.83,82.87 114,82.1 115.17,81.39 116.33,80.73 117.5,80.11 118.67,79.54 119.83,79.01 121,78.52 122.17,78.06 123.33,77.63 124.5,77.23 125.67,76.86 126.83,76.55 128,76.28 129.17,76.05 130.33,75.86 131.5,75.7 132.67,75.57 133.83,75.46 135,75.37 136.17,75.3 137.33,75.24 138.5,75.19 139.67,75.12 140.83,75.08 142,75.08 143.17,75.09 144.33,75.13 145.5,75.19 146.67,75.25 147.83,75.32 149,75.4 150.17,75.47 151.33,75.54 152.5,75.59 153.67,75.68 154.83,75.77 156,75.87 157.17,75.97 158.33,76.08 159.5,76.18 160.67,76.29 161.83,76.4 163,76.5 164.17,76.61 165.33,76.72 166.5,76.82 167.67,76.92 168.83,77.03 170,77.14 171.17,77.24 172.33,77.35 173.5,77.46 174.67,77.56 175.83,77.67 177,77.77 178.17,77.87 179.33,77.96 180.5,78.05 181.67,78.13 182.83,78.22 184,78.3 185.17,78.38 186.33,78.46 187.5,78.53 188.67,78.6 189.83,78.67 191,78.73 192.17,78.78 193.33,78.82 194.5,78.86 195.83,78.89 197.23,78.91 198.7,78.92 200.18,78.92 201.65,78.92 203.08,78.91 204.44,78.9 205.69,78.88 206.81,78.87 207.75,78.87 208.5,78.86" fill="none" stroke="#90e090" stroke-width="0.6" stroke-dasharray="1 1"/>
<polyline points="26.5,164.66 27.18,164.33 28.02,163.93 29.02,163.46 30.13,162.94 31.34,162.36 32.62,161.75 33.96,161.11 35.31,160.44 36.67,159.76 38,159.07 39.29,158.39 40.5,157.72 41.67,157.04 42.83,156.35 44,155.63 45.17,154.9 46.33,154.16 47.5,153.4 48.67,152.64 49.83,151.86 51,151.08 52.17,150.3 53.33,149.51 54.5,148.73 55.67,147.95 56.83,147.16 58,146.37 59.17,145.58 60.33,144.78 61.5,143.98 62.67,143.17 63.83,142.34 65,141.51 66.17,140.66 67.33,139.8 68.5,138.92 69.67,138.03 70.83,137.12 72,136.19 73.17,135.25 74.33,134.29 75.5,133.33 76.67,132.36 77.83,131.39 79,130.41 80.17,129.43 81.33,128.46 82.5,127.48 83.67,126.5 84.83,125.49 86,124.47 87.17,123.44 88.33,122.41 89.5,121.38 90.67,120.36 91.83,119.36 93,118.38 94.17,117.42 95.33,116.51 96.5,115.63 97.67,114.79 98.83,113.98 100,113.18 101.17,112.41 102.33,111.66 103.5,110.94 104.67,110.23 105.83,109.55 107,108.89 108.17,108.26 109.33,107.64 110.5,107.05 111.67,106.49 112.83,105.95 114,105.43 115.17,104.94 116.33,104.46 117.5,104.02 118.67,103.59 119.83,103.18 121,102.79 122.17,102.42 123.33,102.07 124.5,101.74 125.67,101.43 126.83,101.15 128,100.9 129.17,100.67 130.33,100.46 131.5,100.26 132.67,100.08 133.83,99.91 135,99.75 136.17,99.6 137.33,99.44 138.5,99.29 139.67,99.15 140.83,99.01 142,98.89 143.17,98.78 144.33,98.67 145.5,98.58 146.67,98.49 147.83,98.4 149,98.31 150.17,98.23 151.33,98.15 152.5,98.07 153.67,97.98 154.83,97.9 156,97.82 157.17,97.75 158.33,97.68 159.5,97.61 160.67,97.54 161.83,97.48 163,97.41 164.17,97.36 165.33,97.3 166.5,97.25 167.67,97.2 168.83,97.14 170,97.09 171.17,97.04 172.33,96.99 173.5,96.94 174.67,96.9 175.83,96.87 177,96.85 178.17,96.83 179.33,96.83 180.5,96.84 181.67,96.87 182.83,96.91 184,96.97 185.17,97.04 186.33,97.11 187.5,97.2 188.67,97.28 189.83,97.37 191,97.45 192.17,97.53 193.33,97.6 194.5,97.66 195.83,97.71 197.23,97.76 198.7,97.81 200.18,97.85 201.65,97.89 203.08,97.93 204.44,97.96 205.69,97.99 206.81,98.02 207.75,98.05 208.5,98.07" fill="none" stroke="#3030ff" stroke-width="0.9"/>
<polyline points="26.5,163.44 27.18,163.01 28.02,162.48 29.02,161.87 30.13,161.18 31.34,160.43 32.62,159.63 33.96,158.79 35.31,157.93 36.67,157.05 38,156.17 39.29,155.3 40.5,154.45 41.67,153.61 42.83,152.76 44,151.9 45.17,151.03 46.33,150.14 47.5,149.24 48.67,148.32 49.83,147.38 51,146.42 52.17,145.44 53.33,144.44 54.5,143.42 55.67,142.36 56.83,141.27 58,140.15 59.17,139.01 60.33,137.85 61.5,136.68 62.67,135.49 63.83,134.29 65,133.09 66.17,131.9 67.33,130.71 68.5,129.53 69.67,128.35 70.83,127.16 72,125.97 73.17,124.77 74.33,123.58 75.5,122.38 76.67,121.18 77.83,119.98 79,118.78 80.17,117.59 81.33,116.4 82.5,115.23 83.67,114.05 84.83,112.87 86,111.69 87.17,110.5 88.33,109.33 89.5,108.15 90.67,106.99 91.83,105.83 93,104.68 94.17,103.55 95.33,102.43 96.5,101.33 97.67,100.24 98.83,99.13 100,98.01 101.17,96.9 102.33,95.8 103.5,94.72 104.67,93.67 105.83,92.65 107,91.67 108.17,90.75 109.33,89.88 110.5,89.08 111.67,88.34 112.83,87.66 114,87.04 115.17,86.46 116.33,85.92 117.5,85.43 118.67,84.96 119.83,84.52 121,84.11 122.17,83.71 123.33,83.33 124.5,82.95 125.67,82.59 126.83,82.25 128,81.95 129.17,81.66 130.33,81.4 131.5,81.16 132.67,80.94 133.83,80.74 135,80.55 136.17,80.39 137.33,80.23 138.5,80.09 139.67,79.96 140.83,79.86 142,79.79 143.17,79.73 144.33,79.68 145.5,79.65 146.67,79.64 147.83,79.63 149,79.64 150.17,79.65 151.33,79.66 152.5,79.68 153.67,79.71 154.83,79.75 156,79.8 157.17,79.86 158.33,79.93 159.5,80.01 160.67,80.09 161.83,80.18 163,80.26 164.17,80.35 165.33,80.43 166.5,80.5 167.67,80.57 168.83,80.64 170,80.72 171.17,80.8 172.33,80.88 173.5,80.96 174.67,81.03 175.83,81.1 177,81.17 178.17,81.23 179.33,81.27 180.5,81.31 181.67,81.34 182.83,81.37 184,81.38 185.17,81.39 186.33,81.39 187.5,81.39 188.67,81.38 189.83,81.37 191,81.36 192.17,81.35 193.33,81.33 194.5,81.31 195.83,81.29 197.23,81.26 198.7,81.22 200.18,81.18 201.65,81.13 203.08,81.09 204.44,81.04 205.69,81 206.81,80.96 207.75,80.93 208.5,80.91" fill="none" stroke="#222" stroke-width="0.9"/>
<polyline points="26.5,163.03 27.18,162.58 28.02,162.03 29.02,161.4 30.13,160.68 31.34,159.9 32.62,159.07 33.96,158.2 35.31,157.29 36.67,156.37 38,155.45 39.29,154.53 40.5,153.63 41.67,152.74 42.83,151.82 44,150.89 45.17,149.94 46.33,148.97 47.5,147.99 48.67,146.99 49.83,145.97 51,144.95 52.17,143.9 53.33,142.85 54.5,141.78 55.67,140.7 56.83,139.6 58,138.47 59.17,137.33 60.33,136.18 61.5,135.02 62.67,133.84 63.83,132.66 65,131.47 66.17,130.28 67.33,129.08 68.5,127.89 69.67,126.7 70.83,125.5 72,124.29 73.17,123.08 74.33,121.86 75.5,120.64 76.67,119.41 77.83,118.18 79,116.94 80.17,115.69 81.33,114.44 82.5,113.18 83.67,111.92 84.83,110.63 86,109.34 87.17,108.04 88.33,106.73 89.5,105.42 90.67,104.11 91.83,102.8 93,101.5 94.17,100.21 95.33,98.92 96.5,97.66 97.67,96.38 98.83,95.08 100,93.76 101.17,92.44 102.33,91.12 103.5,89.82 104.67,88.54 105.83,87.31 107,86.12 108.17,84.99 109.33,83.93 110.5,82.95 111.67,82.04 112.83,81.19 114,80.39 115.17,79.63 116.33,78.93 117.5,78.28 118.67,77.66 119.83,77.09 121,76.56 122.17,76.07 123.33,75.61 124.5,75.19 125.67,74.81 126.83,74.49 128,74.22 129.17,73.99 130.33,73.8 131.5,73.65 132.67,73.53 133.83,73.43 135,73.35 136.17,73.28 137.33,73.21 138.5,73.14 139.67,73.09 140.83,73.06 142,73.06 143.17,73.08 144.33,73.12 145.5,73.17 146.67,73.23 147.83,73.29 149,73.36 150.17,73.43 151.33,73.5 152.5,73.55 153.67,73.61 154.83,73.66 156,73.73 157.17,73.79 158.33,73.86 159.5,73.93 160.67,74.01 161.83,74.08 163,74.15 164.17,74.23 165.33,74.3 166.5,74.37 167.67,74.44 168.83,74.51 170,74.58 171.17,74.66 172.33,74.73 173.5,74.8 174.67,74.87 175.83,74.94 177,75.01 178.17,75.07 179.33,75.13 180.5,75.19 181.67,75.24 182.83,75.28 184,75.33 185.17,75.37 186.33,75.41 187.5,75.44 188.67,75.47 189.83,75.5 191,75.53 192.17,75.55 193.33,75.58 194.5,75.59 195.83,75.61 197.23,75.62 198.7,75.62 200.18,75.62 201.65,75.62 203.08,75.62 204.44,75.61 205.69,75.61 206.81,75.6 207.75,75.6 208.5,75.59" fill="none" stroke="#ff3030" stroke-width="0.9"/>
<polyline points="26.5,162.62 27.18,162.15 28.02,161.58 29.02,160.92 30.13,160.17 31.34,159.35 32.62,158.48 33.96,157.57 35.31,156.63 36.67,155.67 38,154.7 39.29,153.75 40.5,152.81 41.67,151.88 42.83,150.93 44,149.96 45.17,148.97 46.33,147.96 47.5,146.94 48.67,145.9 49.83,144.85 51,143.79 52.17,142.72 53.33,141.64 54.5,140.56 55.67,139.46 56.83,138.35 58,137.22 59.17,136.08 60.33,134.93 61.5,133.76 62.67,132.59 63.83,131.42 65,130.23 66.17,129.05 67.33,127.86 68.5,126.67 69.67,125.47 70.83,124.27 72,123.07 73.17,121.85 74.33,120.64 75.5,119.41 76.67,118.19 77.83,116.95 79,115.71 80.17,114.47 81.33,113.21 82.5,111.96 83.67,110.69 84.83,109.41 86,108.11 87.17,106.81 88.33,105.5 89.5,104.19 90.67,102.88 91.83,101.58 93,100.27 94.17,98.98 95.33,97.7 96.5,96.43 97.67,95.15 98.83,93.85 100,92.52 101.17,91.2 102.33,89.87 103.5,88.57 104.67,87.29 105.83,86.05 107,84.86 108.17,83.74 109.33,82.69 110.5,81.72 111.67,80.84 112.83,80.01 114,79.24 115.17,78.53 116.33,77.87 117.5,77.25 118.67,76.68 119.83,76.15 121,75.66 122.17,75.2 123.33,74.77 124.5,74.37 125.67,74 126.83,73.69 128,73.42 129.17,73.19 130.33,73 131.5,72.84 132.67,72.71 133.83,72.6 135,72.51 136.17,72.44 137.33,72.38 138.5,72.33 139.67,72.29 140.83,72.29 142,72.32 143.17,72.37 144.33,72.44 145.5,72.53 146.67,72.63 147.83,72.73 149,72.84 150.17,72.95 151.33,73.05 152.5,73.14 153.67,73.23 154.83,73.32 156,73.42 157.17,73.52 158.33,73.62 159.5,73.73 160.67,73.84 161.83,73.94 163,74.05 164.17,74.16 165.33,74.27 166.5,74.37 167.67,74.47 168.83,74.58 170,74.68 171.17,74.79 172.33,74.9 173.5,75.01 174.67,75.11 175.83,75.22 177,75.32 178.17,75.41 179.33,75.51 180.5,75.59 181.67,75.68 182.83,75.76 184,75.85 185.17,75.93 186.33,76.01 187.5,76.08 188.67,76.15 189.83,76.21 191,76.27 192.17,76.33 193.33,76.37 194.5,76.41 195.83,76.44 197.23,76.46 198.7,76.47 200.18,76.47 201.65,76.47 203.08,76.46 204.44,76.45 205.69,76.43 206.81,76.42 207.75,76.41 208.5,76.41" fill="none" stroke="#20cc20" stroke-width="0.9"/>
<line x1="138.5" y1="42.5" x2="138.5" y2="185.5" stroke="#555" stroke-width="0.6" stroke-dasharray="1 1.2"/>
<rect x="26.5" y="42.5" width="182" height="143" fill="none" stroke="#262626" stroke-width="0.9"/>
<path d="M26.5 185.5v-2.0M26.5 42.5v2.0M54.5 185.5v-2.0M54.5 42.5v2.0M82.5 185.5v-2.0M82.5 42.5v2.0M110.5 185.5v-2.0M110.5 42.5v2.0M138.5 185.5v-2.0M138.5 42.5v2.0M166.5 185.5v-2.0M166.5 42.5v2.0M194.5 185.5v-2.0M194.5 42.5v2.0M26.5 185.5h2.0M208.5 185.5h-2.0M26.5 165.07h2.0M208.5 165.07h-2.0M26.5 144.64h2.0M208.5 144.64h-2.0M26.5 124.21h2.0M208.5 124.21h-2.0M26.5 103.79h2.0M208.5 103.79h-2.0M26.5 83.36h2.0M208.5 83.36h-2.0M26.5 62.93h2.0M208.5 62.93h-2.0M26.5 42.5h2.0M208.5 42.5h-2.0" stroke="#262626" stroke-width="0.9" fill="none"/>
<text x="26.5" y="194.4" text-anchor="middle" font-size="7.0">-8</text>
<text x="54.5" y="194.4" text-anchor="middle" font-size="7.0">-6</text>
<text x="82.5" y="194.4" text-anchor="middle" font-size="7.0">-4</text>
<text x="110.5" y="194.4" text-anchor="middle" font-size="7.0">-2</text>
<text x="138.5" y="194.4" text-anchor="middle" font-size="7.0">0</text>
<text x="166.5" y="194.4" text-anchor="middle" font-size="7.0">2</text>
<text x="194.5" y="194.4" text-anchor="middle" font-size="7.0">4</text>
<text x="24" y="187.9" text-anchor="end" font-size="6.8">-50</text>
<text x="24" y="167.47" text-anchor="end" font-size="6.8">0</text>
<text x="24" y="147.04" text-anchor="end" font-size="6.8">50</text>
<text x="24" y="126.61" text-anchor="end" font-size="6.8">100</text>
<text x="24" y="106.19" text-anchor="end" font-size="6.8">150</text>
<text x="24" y="85.76" text-anchor="end" font-size="6.8">200</text>
<text x="24" y="65.33" text-anchor="end" font-size="6.8">250</text>
<text x="24" y="44.9" text-anchor="end" font-size="6.8">300</text>
<line x1="32.4" y1="51.1" x2="49" y2="51.1" stroke="#333" stroke-width="0.9"/>
<text x="50.8" y="53.42" font-size="6.1">No application</text>
<line x1="32.4" y1="58.4" x2="49" y2="58.4" stroke="#2a2aff" stroke-width="1.0"/>
<text x="50.8" y="60.72" font-size="6.1">Water application</text>
<line x1="32.4" y1="65.7" x2="49" y2="65.7" stroke="#ff5a5a" stroke-width="1.0"/>
<text x="50.8" y="68.02" font-size="6.1">Rosin powder application</text>
<line x1="32.4" y1="73" x2="49" y2="73" stroke="#a8f0a8" stroke-width="1.8"/>
<text x="50.8" y="75.32" font-size="6.1">Pine resin application</text>
<text x="137.6" y="30.9" text-anchor="middle" font-size="7.05">Ball release</text>
<line x1="137.9" y1="33.3" x2="137.9" y2="38.5" stroke="#111" stroke-width="0.9"/>
<polygon points="136.1,37.8 139.7,37.8 137.9,41.8" fill="#111"/>
<text x="117.5" y="203" text-anchor="middle" font-size="7.3">Time <tspan font-style="italic">t</tspan>, ms</text>
<text x="1.8" y="15.95" font-size="22.2">A</text>
<polygon points="266.2,160.99 277.22,158.53 288.24,155.67 299.26,152 310.27,147.91 321.29,141.78 332.31,134.43 343.33,125.44 354.35,115.23 365.37,100.93 376.39,87.85 387.41,74.37 398.43,62.52 409.44,52.31 420.46,53.53 431.48,67.42 442.5,83.77 442.5,98.47 431.48,82.95 420.46,69.87 409.44,68.65 398.43,77.23 387.41,88.26 376.39,100.93 365.37,113.18 354.35,126.67 343.33,136.06 332.31,144.23 321.29,151.59 310.27,157.72 299.26,161.8 288.24,165.48 277.22,168.34 266.2,170.79" fill="rgba(205,205,255,0.35)" stroke="none"/>
<polygon points="266.2,164.25 277.22,161.8 288.24,158.94 299.26,154.86 310.27,150.36 321.29,144.64 332.31,138.11 343.33,129.93 354.35,119.72 365.37,105.83 376.39,92.75 387.41,77.64 398.43,62.52 409.44,49.04 420.46,49.85 431.48,65.79 442.5,82.54 442.5,93.98 431.48,78.05 420.46,62.93 409.44,62.11 398.43,74.78 387.41,89.08 376.39,103.38 365.37,115.63 354.35,129.53 343.33,138.92 332.31,147.09 321.29,153.63 310.27,159.35 299.26,163.85 288.24,167.93 277.22,170.79 266.2,173.24" fill="rgba(170,170,170,0.15)" stroke="none"/>
<polygon points="266.2,162.62 277.22,160.17 288.24,157.72 299.26,154.04 310.27,150.36 321.29,144.64 332.31,138.51 343.33,130.34 354.35,120.54 365.37,109.1 376.39,96.43 387.41,82.13 398.43,68.24 409.44,53.94 420.46,54.76 431.48,68.24 442.5,84.58 442.5,94.39 431.48,78.05 420.46,64.56 409.44,63.75 398.43,77.23 387.41,91.12 376.39,104.6 365.37,116.45 354.35,127.89 343.33,136.88 332.31,145.05 321.29,151.18 310.27,156.9 299.26,160.58 288.24,164.25 277.22,166.71 266.2,169.16" fill="rgba(255,170,170,0.2)" stroke="none"/>
<polygon points="266.2,160.99 277.22,158.94 288.24,156.9 299.26,153.22 310.27,149.55 321.29,145.05 332.31,140.15 343.33,131.57 354.35,121.76 365.37,110.32 376.39,97.66 387.41,83.36 398.43,68.65 409.44,51.49 420.46,50.67 431.48,64.15 442.5,80.5 442.5,92.75 431.48,76.41 420.46,62.93 409.44,63.75 398.43,80.09 387.41,93.98 376.39,107.46 365.37,119.31 354.35,129.93 343.33,139.74 332.31,147.5 321.29,152.41 310.27,156.9 299.26,160.58 288.24,164.25 277.22,166.3 266.2,168.34" fill="rgba(150,255,150,0.3)" stroke="none"/>
<polyline points="266.2,160.99 277.22,158.53 288.24,155.67 299.26,152 310.27,147.91 321.29,141.78 332.31,134.43 343.33,125.44 354.35,115.23 365.37,100.93 376.39,87.85 387.41,74.37 398.43,62.52 409.44,52.31 420.46,53.53 431.48,67.42 442.5,83.77" fill="none" stroke="#8080ff" stroke-width="0.6" stroke-dasharray="1 1"/>
<polyline points="266.2,170.79 277.22,168.34 288.24,165.48 299.26,161.8 310.27,157.72 321.29,151.59 332.31,144.23 343.33,136.06 354.35,126.67 365.37,113.18 376.39,100.93 387.41,88.26 398.43,77.23 409.44,68.65 420.46,69.87 431.48,82.95 442.5,98.47" fill="none" stroke="#8080ff" stroke-width="0.6" stroke-dasharray="1 1"/>
<polyline points="266.2,164.25 277.22,161.8 288.24,158.94 299.26,154.86 310.27,150.36 321.29,144.64 332.31,138.11 343.33,129.93 354.35,119.72 365.37,105.83 376.39,92.75 387.41,77.64 398.43,62.52 409.44,49.04 420.46,49.85 431.48,65.79 442.5,82.54" fill="none" stroke="#999" stroke-width="0.6" stroke-dasharray="1 1"/>
<polyline points="266.2,173.24 277.22,170.79 288.24,167.93 299.26,163.85 310.27,159.35 321.29,153.63 332.31,147.09 343.33,138.92 354.35,129.53 365.37,115.63 376.39,103.38 387.41,89.08 398.43,74.78 409.44,62.11 420.46,62.93 431.48,78.05 442.5,93.98" fill="none" stroke="#999" stroke-width="0.6" stroke-dasharray="1 1"/>
<polyline points="266.2,162.62 277.22,160.17 288.24,157.72 299.26,154.04 310.27,150.36 321.29,144.64 332.31,138.51 343.33,130.34 354.35,120.54 365.37,109.1 376.39,96.43 387.41,82.13 398.43,68.24 409.44,53.94 420.46,54.76 431.48,68.24 442.5,84.58" fill="none" stroke="#ff9090" stroke-width="0.6" stroke-dasharray="1 1"/>
<polyline points="266.2,169.16 277.22,166.71 288.24,164.25 299.26,160.58 310.27,156.9 321.29,151.18 332.31,145.05 343.33,136.88 354.35,127.89 365.37,116.45 376.39,104.6 387.41,91.12 398.43,77.23 409.44,63.75 420.46,64.56 431.48,78.05 442.5,94.39" fill="none" stroke="#ff9090" stroke-width="0.6" stroke-dasharray="1 1"/>
<polyline points="266.2,160.99 277.22,158.94 288.24,156.9 299.26,153.22 310.27,149.55 321.29,145.05 332.31,140.15 343.33,131.57 354.35,121.76 365.37,110.32 376.39,97.66 387.41,83.36 398.43,68.65 409.44,51.49 420.46,50.67 431.48,64.15 442.5,80.5" fill="none" stroke="#90e090" stroke-width="0.6" stroke-dasharray="1 1"/>
<polyline points="266.2,168.34 277.22,166.3 288.24,164.25 299.26,160.58 310.27,156.9 321.29,152.41 332.31,147.5 343.33,139.74 354.35,129.93 365.37,119.31 376.39,107.46 387.41,93.98 398.43,80.09 409.44,63.75 420.46,62.93 431.48,76.41 442.5,92.75" fill="none" stroke="#90e090" stroke-width="0.6" stroke-dasharray="1 1"/>
<polyline points="266.2,165.89 277.22,163.44 288.24,160.58 299.26,156.9 310.27,152.81 321.29,146.69 332.31,139.33 343.33,130.75 354.35,120.95 365.37,107.05 376.39,94.39 387.41,81.31 398.43,69.87 409.44,60.48 420.46,61.7 431.48,75.19 442.5,91.12" fill="none" stroke="#3030ff" stroke-width="0.9"/>
<polyline points="266.2,168.75 277.22,166.3 288.24,163.44 299.26,159.35 310.27,154.86 321.29,149.14 332.31,142.6 343.33,134.43 354.35,124.62 365.37,110.73 376.39,98.07 387.41,83.36 398.43,68.65 409.44,55.57 420.46,56.39 431.48,71.92 442.5,88.26" fill="none" stroke="#222" stroke-width="0.9"/>
<polyline points="266.2,165.89 277.22,163.44 288.24,160.99 299.26,157.31 310.27,153.63 321.29,147.91 332.31,141.78 343.33,133.61 354.35,124.21 365.37,112.77 376.39,100.52 387.41,86.63 398.43,72.73 409.44,58.84 420.46,59.66 431.48,73.14 442.5,89.49" fill="none" stroke="#ff3030" stroke-width="0.9"/>
<polyline points="266.2,164.66 277.22,162.62 288.24,160.58 299.26,156.9 310.27,153.22 321.29,148.73 332.31,143.83 343.33,135.65 354.35,125.85 365.37,114.82 376.39,102.56 387.41,88.67 398.43,74.37 409.44,57.62 420.46,56.8 431.48,70.28 442.5,86.63" fill="none" stroke="#20cc20" stroke-width="0.9"/>
<rect x="266.2" y="42.5" width="176.3" height="143" fill="none" stroke="#262626" stroke-width="0.9"/>
<path d="M266.2 185.5v-2.0M266.2 42.5v2.0M310.27 185.5v-2.0M310.27 42.5v2.0M354.35 185.5v-2.0M354.35 42.5v2.0M398.43 185.5v-2.0M398.43 42.5v2.0M442.5 185.5v-2.0M442.5 42.5v2.0M266.2 185.5h2.0M442.5 185.5h-2.0M266.2 165.07h2.0M442.5 165.07h-2.0M266.2 144.64h2.0M442.5 144.64h-2.0M266.2 124.21h2.0M442.5 124.21h-2.0M266.2 103.79h2.0M442.5 103.79h-2.0M266.2 83.36h2.0M442.5 83.36h-2.0M266.2 62.93h2.0M442.5 62.93h-2.0M266.2 42.5h2.0M442.5 42.5h-2.0" stroke="#262626" stroke-width="0.9" fill="none"/>
<text x="266.2" y="194.4" text-anchor="middle" font-size="7.0">-8</text>
<text x="310.27" y="194.4" text-anchor="middle" font-size="7.0">-6</text>
<text x="354.35" y="194.4" text-anchor="middle" font-size="7.0">-4</text>
<text x="398.43" y="194.4" text-anchor="middle" font-size="7.0">-2</text>
<text x="442.5" y="194.4" text-anchor="middle" font-size="7.0">0</text>
<text x="263.7" y="187.9" text-anchor="end" font-size="6.8">0</text>
<text x="263.7" y="167.47" text-anchor="end" font-size="6.8">50</text>
<text x="263.7" y="147.04" text-anchor="end" font-size="6.8">100</text>
<text x="263.7" y="126.61" text-anchor="end" font-size="6.8">150</text>
<text x="263.7" y="106.19" text-anchor="end" font-size="6.8">200</text>
<text x="263.7" y="85.76" text-anchor="end" font-size="6.8">250</text>
<text x="263.7" y="65.33" text-anchor="end" font-size="6.8">300</text>
<text x="263.7" y="44.9" text-anchor="end" font-size="6.8">350</text>
<line x1="272.4" y1="51.6" x2="288.8" y2="51.6" stroke="#666" stroke-width="0.9"/>
<text x="290.5" y="54.15" font-size="6.7">No application</text>
<line x1="272.4" y1="59.77" x2="288.8" y2="59.77" stroke="#a8a8ff" stroke-width="1.6"/>
<text x="290.5" y="62.32" font-size="6.7">Water application</text>
<line x1="272.4" y1="67.94" x2="288.8" y2="67.94" stroke="#ffa8a8" stroke-width="1.6"/>
<text x="290.5" y="70.49" font-size="6.7">Rosin powder application</text>
<line x1="272.4" y1="76.11" x2="288.8" y2="76.11" stroke="#44ee44" stroke-width="1.0"/>
<text x="290.5" y="78.66" font-size="6.7">Pine resin application</text>
<text x="430.5" y="31.5" text-anchor="middle" font-size="7.05">Ball release</text>
<line x1="442.5" y1="33.3" x2="442.5" y2="38.5" stroke="#111" stroke-width="0.9"/>
<polygon points="440.7,37.8 444.3,37.8 442.5,41.8" fill="#111"/>
<text x="354.35" y="203" text-anchor="middle" font-size="7.3">Time <tspan font-style="italic">t</tspan>, ms</text>
<text x="229" y="20" font-size="21.5">B</text>
<line x1="501.5" y1="156.5" x2="677.5" y2="156.5" stroke="#8a8a8a" stroke-width="1"/>
<polygon points="501.5,125.44 512.5,126.58 523.5,127.73 534.5,130.02 545.5,131.73 556.5,131.16 567.5,128.3 578.5,124.3 589.5,116.86 600.5,108.28 611.5,96.84 622.5,81.4 633.5,65.95 644.5,58.52 655.5,62.52 666.5,81.97 677.5,108.28 677.5,131.16 666.5,104.85 655.5,85.4 644.5,81.4 633.5,88.83 622.5,104.28 611.5,119.72 600.5,131.16 589.5,139.74 578.5,143.74 567.5,147.75 556.5,150.61 545.5,151.18 534.5,149.46 523.5,147.18 512.5,146.03 501.5,144.89" fill="rgba(205,205,255,0.35)" stroke="none"/>
<polygon points="501.5,136.88 512.5,138.6 523.5,140.31 534.5,142.6 545.5,144.89 556.5,147.75 567.5,149.46 578.5,148.89 589.5,140.88 600.5,130.59 611.5,116.29 622.5,101.42 633.5,88.26 644.5,80.25 655.5,84.83 666.5,106.56 677.5,135.74 677.5,155.18 666.5,126.01 655.5,104.28 644.5,99.7 633.5,107.71 622.5,120.86 611.5,135.74 600.5,150.04 589.5,160.33 578.5,160.33 567.5,160.9 556.5,159.19 545.5,156.33 534.5,154.04 523.5,151.75 512.5,150.04 501.5,148.32" fill="rgba(170,170,170,0.15)" stroke="none"/>
<polygon points="501.5,132.3 512.5,134.59 523.5,137.45 534.5,140.31 545.5,144.32 556.5,148.32 567.5,150.61 578.5,151.75 589.5,151.75 600.5,147.75 611.5,135.74 622.5,120.86 633.5,109.42 644.5,101.42 655.5,103.7 666.5,120.29 677.5,146.6 677.5,156.9 666.5,130.59 655.5,114 644.5,111.71 633.5,119.72 622.5,131.16 611.5,146.03 600.5,158.04 589.5,162.05 578.5,162.05 567.5,160.9 556.5,158.62 545.5,154.61 534.5,150.61 523.5,147.75 512.5,144.89 501.5,142.6" fill="rgba(255,170,170,0.2)" stroke="none"/>
<polygon points="501.5,135.74 512.5,137.45 523.5,139.74 534.5,142.6 545.5,146.6 556.5,150.61 567.5,154.04 578.5,156.33 589.5,156.33 600.5,152.9 611.5,136.88 622.5,121.44 633.5,109.42 644.5,99.7 655.5,100.84 666.5,119.15 677.5,148.32 677.5,158.62 666.5,129.44 655.5,111.14 644.5,110 633.5,119.72 622.5,131.73 611.5,147.18 600.5,163.19 589.5,166.62 578.5,166.62 567.5,164.34 556.5,160.9 545.5,156.9 534.5,152.9 523.5,150.04 512.5,147.75 501.5,146.03" fill="rgba(150,255,150,0.3)" stroke="none"/>
<polyline points="501.5,125.44 512.5,126.58 523.5,127.73 534.5,130.02 545.5,131.73 556.5,131.16 567.5,128.3 578.5,124.3 589.5,116.86 600.5,108.28 611.5,96.84 622.5,81.4 633.5,65.95 644.5,58.52 655.5,62.52 666.5,81.97 677.5,108.28" fill="none" stroke="#8080ff" stroke-width="0.6" stroke-dasharray="1 1"/>
<polyline points="501.5,144.89 512.5,146.03 523.5,147.18 534.5,149.46 545.5,151.18 556.5,150.61 567.5,147.75 578.5,143.74 589.5,139.74 600.5,131.16 611.5,119.72 622.5,104.28 633.5,88.83 644.5,81.4 655.5,85.4 666.5,104.85 677.5,131.16" fill="none" stroke="#8080ff" stroke-width="0.6" stroke-dasharray="1 1"/>
<polyline points="501.5,136.88 512.5,138.6 523.5,140.31 534.5,142.6 545.5,144.89 556.5,147.75 567.5,149.46 578.5,148.89 589.5,140.88 600.5,130.59 611.5,116.29 622.5,101.42 633.5,88.26 644.5,80.25 655.5,84.83 666.5,106.56 677.5,135.74" fill="none" stroke="#999" stroke-width="0.6" stroke-dasharray="1 1"/>
<polyline points="501.5,148.32 512.5,150.04 523.5,151.75 534.5,154.04 545.5,156.33 556.5,159.19 567.5,160.9 578.5,160.33 589.5,160.33 600.5,150.04 611.5,135.74 622.5,120.86 633.5,107.71 644.5,99.7 655.5,104.28 666.5,126.01 677.5,155.18" fill="none" stroke="#999" stroke-width="0.6" stroke-dasharray="1 1"/>
<polyline points="501.5,132.3 512.5,134.59 523.5,137.45 534.5,140.31 545.5,144.32 556.5,148.32 567.5,150.61 578.5,151.75 589.5,151.75 600.5,147.75 611.5,135.74 622.5,120.86 633.5,109.42 644.5,101.42 655.5,103.7 666.5,120.29 677.5,146.6" fill="none" stroke="#ff9090" stroke-width="0.6" stroke-dasharray="1 1"/>
<polyline points="501.5,142.6 512.5,144.89 523.5,147.75 534.5,150.61 545.5,154.61 556.5,158.62 567.5,160.9 578.5,162.05 589.5,162.05 600.5,158.04 611.5,146.03 622.5,131.16 633.5,119.72 644.5,111.71 655.5,114 666.5,130.59 677.5,156.9" fill="none" stroke="#ff9090" stroke-width="0.6" stroke-dasharray="1 1"/>
<polyline points="501.5,135.74 512.5,137.45 523.5,139.74 534.5,142.6 545.5,146.6 556.5,150.61 567.5,154.04 578.5,156.33 589.5,156.33 600.5,152.9 611.5,136.88 622.5,121.44 633.5,109.42 644.5,99.7 655.5,100.84 666.5,119.15 677.5,148.32" fill="none" stroke="#90e090" stroke-width="0.6" stroke-dasharray="1 1"/>
<polyline points="501.5,146.03 512.5,147.75 523.5,150.04 534.5,152.9 545.5,156.9 556.5,160.9 567.5,164.34 578.5,166.62 589.5,166.62 600.5,163.19 611.5,147.18 622.5,131.73 633.5,119.72 644.5,110 655.5,111.14 666.5,129.44 677.5,158.62" fill="none" stroke="#90e090" stroke-width="0.6" stroke-dasharray="1 1"/>
<polyline points="501.5,135.16 512.5,136.31 523.5,137.45 534.5,139.74 545.5,141.46 556.5,140.88 567.5,138.02 578.5,134.02 589.5,128.3 600.5,119.72 611.5,108.28 622.5,92.84 633.5,77.39 644.5,69.96 655.5,73.96 666.5,93.41 677.5,119.72" fill="none" stroke="#3030ff" stroke-width="0.9"/>
<polyline points="501.5,142.6 512.5,144.32 523.5,146.03 534.5,148.32 545.5,150.61 556.5,153.47 567.5,155.18 578.5,154.61 589.5,150.61 600.5,140.31 611.5,126.01 622.5,111.14 633.5,97.98 644.5,89.98 655.5,94.55 666.5,116.29 677.5,145.46" fill="none" stroke="#222" stroke-width="0.9"/>
<polyline points="501.5,137.45 512.5,139.74 523.5,142.6 534.5,145.46 545.5,149.46 556.5,153.47 567.5,155.76 578.5,156.9 589.5,156.9 600.5,152.9 611.5,140.88 622.5,126.01 633.5,114.57 644.5,106.56 655.5,108.85 666.5,125.44 677.5,151.75" fill="none" stroke="#ff3030" stroke-width="0.9"/>
<polyline points="501.5,140.88 512.5,142.6 523.5,144.89 534.5,147.75 545.5,151.75 556.5,155.76 567.5,159.19 578.5,161.48 589.5,161.48 600.5,158.04 611.5,142.03 622.5,126.58 633.5,114.57 644.5,104.85 655.5,105.99 666.5,124.3 677.5,153.47" fill="none" stroke="#20cc20" stroke-width="0.9"/>
<rect x="501.5" y="42.5" width="176" height="143" fill="none" stroke="#262626" stroke-width="0.9"/>
<path d="M501.5 185.5v-2.0M501.5 42.5v2.0M523.5 185.5v-2.0M523.5 42.5v2.0M545.5 185.5v-2.0M545.5 42.5v2.0M567.5 185.5v-2.0M567.5 42.5v2.0M589.5 185.5v-2.0M589.5 42.5v2.0M611.5 185.5v-2.0M611.5 42.5v2.0M633.5 185.5v-2.0M633.5 42.5v2.0M655.5 185.5v-2.0M655.5 42.5v2.0M677.5 185.5v-2.0M677.5 42.5v2.0M501.5 185.5h2.0M677.5 185.5h-2.0M501.5 156.9h2.0M677.5 156.9h-2.0M501.5 128.3h2.0M677.5 128.3h-2.0M501.5 99.7h2.0M677.5 99.7h-2.0M501.5 71.1h2.0M677.5 71.1h-2.0M501.5 42.5h2.0M677.5 42.5h-2.0" stroke="#262626" stroke-width="0.9" fill="none"/>
<text x="501.5" y="194.4" text-anchor="middle" font-size="7.0">-8</text>
<text x="523.5" y="194.4" text-anchor="middle" font-size="7.0">-7</text>
<text x="545.5" y="194.4" text-anchor="middle" font-size="7.0">-6</text>
<text x="567.5" y="194.4" text-anchor="middle" font-size="7.0">-5</text>
<text x="589.5" y="194.4" text-anchor="middle" font-size="7.0">-4</text>
<text x="611.5" y="194.4" text-anchor="middle" font-size="7.0">-3</text>
<text x="633.5" y="194.4" text-anchor="middle" font-size="7.0">-2</text>
<text x="655.5" y="194.4" text-anchor="middle" font-size="7.0">-1</text>
<text x="677.5" y="194.4" text-anchor="middle" font-size="7.0">0</text>
<text x="499" y="187.9" text-anchor="end" font-size="6.8">-50</text>
<text x="499" y="159.3" text-anchor="end" font-size="6.8">0</text>
<text x="499" y="130.7" text-anchor="end" font-size="6.8">50</text>
<text x="499" y="102.1" text-anchor="end" font-size="6.8">100</text>
<text x="499" y="73.5" text-anchor="end" font-size="6.8">150</text>
<text x="499" y="44.9" text-anchor="end" font-size="6.8">200</text>
<line x1="507.4" y1="51.3" x2="523.8" y2="51.3" stroke="#444" stroke-width="0.9"/>
<text x="525.8" y="53.85" font-size="6.7">No application</text>
<line x1="507.4" y1="59.4" x2="523.8" y2="59.4" stroke="#4848ff" stroke-width="1.0"/>
<text x="525.8" y="61.95" font-size="6.7">Water application</text>
<line x1="507.4" y1="67.5" x2="523.8" y2="67.5" stroke="#ff5a5a" stroke-width="1.0"/>
<text x="525.8" y="70.05" font-size="6.7">Rosin powder application</text>
<line x1="507.4" y1="75.6" x2="523.8" y2="75.6" stroke="#44ee44" stroke-width="1.0"/>
<text x="525.8" y="78.15" font-size="6.7">Pine resin application</text>
<text x="666" y="31.5" text-anchor="middle" font-size="7.05">Ball release</text>
<line x1="677.5" y1="33.3" x2="677.5" y2="38.5" stroke="#111" stroke-width="0.9"/>
<polygon points="675.7,37.8 679.3,37.8 677.5,41.8" fill="#111"/>
<text x="589.5" y="203" text-anchor="middle" font-size="7.3">Time <tspan font-style="italic">t</tspan>, ms</text>
<text x="455.9" y="19.8" font-size="22.2">C</text>
<polyline points="58.25,262.5 103.75,273.3 149.25,257.8 194.75,254.8" fill="none" stroke="#c8c8c8" stroke-width="0.5"/>
<polyline points="58.25,265.5 103.75,279.9 149.25,251.9 194.75,246.5" fill="none" stroke="#c8c8c8" stroke-width="0.5"/>
<polyline points="58.25,267.5 103.75,294.7 149.25,260.9 194.75,263.2" fill="none" stroke="#c8c8c8" stroke-width="0.5"/>
<polyline points="58.25,271.2 103.75,290 149.25,263.7 194.75,261.4" fill="none" stroke="#c8c8c8" stroke-width="0.5"/>
<polyline points="58.25,273.8 103.75,306.8 149.25,265.5 194.75,272.2" fill="none" stroke="#c8c8c8" stroke-width="0.5"/>
<polyline points="58.25,268 103.75,280.4 149.25,260.9 194.75,259.6" fill="none" stroke="#c8c8c8" stroke-width="0.5"/>
<line x1="49.25" y1="262.3" x2="49.25" y2="264.7" stroke="#111" stroke-width="0.8" stroke-dasharray="2.6 1.8"/>
<line x1="47.25" y1="262.3" x2="51.25" y2="262.3" stroke="#111" stroke-width="0.8"/>
<line x1="49.25" y1="271" x2="49.25" y2="273.4" stroke="#111" stroke-width="0.8" stroke-dasharray="2.6 1.8"/>
<line x1="47.25" y1="273.4" x2="51.25" y2="273.4" stroke="#111" stroke-width="0.8"/>
<rect x="44.65" y="264.7" width="9.2" height="6.3" fill="none" stroke="#111" stroke-width="0.8"/>
<line x1="44.65" y1="267.3" x2="53.85" y2="267.3" stroke="#111" stroke-width="0.8"/>
<line x1="94.75" y1="273.3" x2="94.75" y2="279.6" stroke="#3333ff" stroke-width="0.8" stroke-dasharray="2.6 1.8"/>
<line x1="92.75" y1="273.3" x2="96.75" y2="273.3" stroke="#3333ff" stroke-width="0.8"/>
<line x1="94.75" y1="294.4" x2="94.75" y2="307.1" stroke="#3333ff" stroke-width="0.8" stroke-dasharray="2.6 1.8"/>
<line x1="92.75" y1="307.1" x2="96.75" y2="307.1" stroke="#3333ff" stroke-width="0.8"/>
<rect x="90.15" y="279.6" width="9.2" height="14.8" fill="none" stroke="#3333ff" stroke-width="0.8"/>
<line x1="90.15" y1="284.3" x2="99.35" y2="284.3" stroke="#3333ff" stroke-width="0.8"/>
<line x1="140.25" y1="251.9" x2="140.25" y2="258.3" stroke="#ff3333" stroke-width="0.8" stroke-dasharray="2.6 1.8"/>
<line x1="138.25" y1="251.9" x2="142.25" y2="251.9" stroke="#ff3333" stroke-width="0.8"/>
<line x1="140.25" y1="263.7" x2="140.25" y2="265.2" stroke="#ff3333" stroke-width="0.8" stroke-dasharray="2.6 1.8"/>
<line x1="138.25" y1="265.2" x2="142.25" y2="265.2" stroke="#ff3333" stroke-width="0.8"/>
<rect x="135.65" y="258.3" width="9.2" height="5.4" fill="none" stroke="#ff3333" stroke-width="0.8"/>
<line x1="135.65" y1="260.1" x2="144.85" y2="260.1" stroke="#ff3333" stroke-width="0.8"/>
<line x1="185.75" y1="246.5" x2="185.75" y2="255.1" stroke="#33dd33" stroke-width="0.8" stroke-dasharray="2.6 1.8"/>
<line x1="183.75" y1="246.5" x2="187.75" y2="246.5" stroke="#33dd33" stroke-width="0.8"/>
<line x1="185.75" y1="263.2" x2="185.75" y2="272.2" stroke="#33dd33" stroke-width="0.8" stroke-dasharray="2.6 1.8"/>
<line x1="183.75" y1="272.2" x2="187.75" y2="272.2" stroke="#33dd33" stroke-width="0.8"/>
<rect x="181.15" y="255.1" width="9.2" height="8.1" fill="none" stroke="#33dd33" stroke-width="0.8"/>
<line x1="181.15" y1="260.9" x2="190.35" y2="260.9" stroke="#33dd33" stroke-width="0.8"/>
<circle cx="58.25" cy="262.5" r="1.55" fill="#fff" stroke="#333" stroke-width="0.55"/>
<circle cx="58.25" cy="265.5" r="1.55" fill="#fff" stroke="#333" stroke-width="0.55"/>
<circle cx="58.25" cy="267.5" r="1.55" fill="#fff" stroke="#333" stroke-width="0.55"/>
<circle cx="58.25" cy="271.2" r="1.55" fill="#fff" stroke="#333" stroke-width="0.55"/>
<circle cx="58.25" cy="273.8" r="1.55" fill="#fff" stroke="#333" stroke-width="0.55"/>
<circle cx="58.25" cy="268.2" r="1.7" fill="#000"/>
<circle cx="103.75" cy="273.3" r="1.55" fill="#fff" stroke="#333" stroke-width="0.55"/>
<circle cx="103.75" cy="279.9" r="1.55" fill="#fff" stroke="#333" stroke-width="0.55"/>
<circle cx="103.75" cy="280.4" r="1.55" fill="#fff" stroke="#333" stroke-width="0.55"/>
<circle cx="103.75" cy="290" r="1.55" fill="#fff" stroke="#333" stroke-width="0.55"/>
<circle cx="103.75" cy="294.7" r="1.55" fill="#fff" stroke="#333" stroke-width="0.55"/>
<circle cx="103.75" cy="306.8" r="1.55" fill="#fff" stroke="#333" stroke-width="0.55"/>
<circle cx="103.75" cy="287.4" r="1.7" fill="#000"/>
<circle cx="149.25" cy="251.9" r="1.55" fill="#fff" stroke="#333" stroke-width="0.55"/>
<circle cx="149.25" cy="257.8" r="1.55" fill="#fff" stroke="#333" stroke-width="0.55"/>
<circle cx="149.25" cy="260.9" r="1.55" fill="#fff" stroke="#333" stroke-width="0.55"/>
<circle cx="149.25" cy="263.7" r="1.55" fill="#fff" stroke="#333" stroke-width="0.55"/>
<circle cx="149.25" cy="265.5" r="1.55" fill="#fff" stroke="#333" stroke-width="0.55"/>
<circle cx="149.25" cy="259" r="1.7" fill="#000"/>
<circle cx="194.75" cy="246.5" r="1.55" fill="#fff" stroke="#333" stroke-width="0.55"/>
<circle cx="194.75" cy="254.8" r="1.55" fill="#fff" stroke="#333" stroke-width="0.55"/>
<circle cx="194.75" cy="261.4" r="1.55" fill="#fff" stroke="#333" stroke-width="0.55"/>
<circle cx="194.75" cy="263.2" r="1.55" fill="#fff" stroke="#333" stroke-width="0.55"/>
<circle cx="194.75" cy="272.2" r="1.55" fill="#fff" stroke="#333" stroke-width="0.55"/>
<circle cx="194.75" cy="259.6" r="1.7" fill="#000"/>
<line x1="94.6" y1="235.6" x2="185.9" y2="235.6" stroke="#555" stroke-width="0.9"/>
<text x="137.9" y="237.82" text-anchor="middle" font-size="9.8" font-weight="bold">*</text>
<text x="142.5" y="237.82" text-anchor="middle" font-size="9.8" font-weight="bold">*</text>
<line x1="94.6" y1="243.5" x2="139.6" y2="243.5" stroke="#555" stroke-width="0.9"/>
<text x="115" y="244.72" text-anchor="middle" font-size="9.8" font-weight="bold">*</text>
<text x="119.5" y="244.72" text-anchor="middle" font-size="9.8" font-weight="bold">*</text>
<rect x="26.5" y="225.5" width="182" height="142" fill="none" stroke="#262626" stroke-width="0.9"/>
<path d="M49.25 367.5v-2.0M49.25 225.5v2.0M94.75 367.5v-2.0M94.75 225.5v2.0M140.25 367.5v-2.0M140.25 225.5v2.0M185.75 367.5v-2.0M185.75 225.5v2.0M26.5 367.5h2.0M208.5 367.5h-2.0M26.5 343.83h2.0M208.5 343.83h-2.0M26.5 320.17h2.0M208.5 320.17h-2.0M26.5 296.5h2.0M208.5 296.5h-2.0M26.5 272.83h2.0M208.5 272.83h-2.0M26.5 249.17h2.0M208.5 249.17h-2.0M26.5 225.5h2.0M208.5 225.5h-2.0" stroke="#262626" stroke-width="0.9" fill="none"/>
<text x="24" y="369.9" text-anchor="end" font-size="6.8">0</text>
<text x="24" y="346.23" text-anchor="end" font-size="6.8">50</text>
<text x="24" y="322.57" text-anchor="end" font-size="6.8">100</text>
<text x="24" y="298.9" text-anchor="end" font-size="6.8">150</text>
<text x="24" y="275.23" text-anchor="end" font-size="6.8">200</text>
<text x="24" y="251.57" text-anchor="end" font-size="6.8">250</text>
<text x="24" y="227.9" text-anchor="end" font-size="6.8">300</text>
<polyline points="296.92,242.5 340.97,245.4 385.02,251.2 429.07,250.2" fill="none" stroke="#c8c8c8" stroke-width="0.5"/>
<polyline points="296.92,244.2 340.97,257 385.02,249.2 429.07,240.4" fill="none" stroke="#c8c8c8" stroke-width="0.5"/>
<polyline points="296.92,246.2 340.97,264.6 385.02,250.3 429.07,253.5" fill="none" stroke="#c8c8c8" stroke-width="0.5"/>
<polyline points="296.92,250.6 340.97,250.2 385.02,252.1 429.07,255" fill="none" stroke="#c8c8c8" stroke-width="0.5"/>
<polyline points="296.92,266.9 340.97,269.8 385.02,263.1 429.07,263.1" fill="none" stroke="#c8c8c8" stroke-width="0.5"/>
<polyline points="296.92,278.1 340.97,269.8 385.02,275.2 429.07,275.6" fill="none" stroke="#c8c8c8" stroke-width="0.5"/>
<line x1="288.22" y1="243.5" x2="288.22" y2="245.2" stroke="#111" stroke-width="0.8" stroke-dasharray="2.6 1.8"/>
<line x1="286.22" y1="243.5" x2="290.22" y2="243.5" stroke="#111" stroke-width="0.8"/>
<line x1="288.22" y1="267.3" x2="288.22" y2="278.1" stroke="#111" stroke-width="0.8" stroke-dasharray="2.6 1.8"/>
<line x1="286.22" y1="278.1" x2="290.22" y2="278.1" stroke="#111" stroke-width="0.8"/>
<rect x="283.62" y="245.2" width="9.2" height="22.1" fill="none" stroke="#111" stroke-width="0.8"/>
<line x1="283.62" y1="248.1" x2="292.82" y2="248.1" stroke="#111" stroke-width="0.8"/>
<rect x="327.67" y="246.2" width="9.2" height="24" fill="none" stroke="#3333ff" stroke-width="0.8"/>
<line x1="327.67" y1="256.9" x2="336.88" y2="256.9" stroke="#3333ff" stroke-width="0.8"/>
<line x1="376.32" y1="249.6" x2="376.32" y2="250.6" stroke="#ff3333" stroke-width="0.8" stroke-dasharray="2.6 1.8"/>
<line x1="374.32" y1="249.6" x2="378.32" y2="249.6" stroke="#ff3333" stroke-width="0.8"/>
<line x1="376.32" y1="263.1" x2="376.32" y2="275.2" stroke="#ff3333" stroke-width="0.8" stroke-dasharray="2.6 1.8"/>
<line x1="374.32" y1="275.2" x2="378.32" y2="275.2" stroke="#ff3333" stroke-width="0.8"/>
<rect x="371.72" y="250.6" width="9.2" height="12.5" fill="none" stroke="#ff3333" stroke-width="0.8"/>
<line x1="371.72" y1="251.5" x2="380.93" y2="251.5" stroke="#ff3333" stroke-width="0.8"/>
<line x1="420.38" y1="240.4" x2="420.38" y2="250.6" stroke="#33dd33" stroke-width="0.8" stroke-dasharray="2.6 1.8"/>
<line x1="418.38" y1="240.4" x2="422.38" y2="240.4" stroke="#33dd33" stroke-width="0.8"/>
<line x1="420.38" y1="263.1" x2="420.38" y2="275.6" stroke="#33dd33" stroke-width="0.8" stroke-dasharray="2.6 1.8"/>
<line x1="418.38" y1="275.6" x2="422.38" y2="275.6" stroke="#33dd33" stroke-width="0.8"/>
<rect x="415.77" y="250.6" width="9.2" height="12.5" fill="none" stroke="#33dd33" stroke-width="0.8"/>
<line x1="415.77" y1="253.1" x2="424.98" y2="253.1" stroke="#33dd33" stroke-width="0.8"/>
<circle cx="296.92" cy="242.5" r="1.55" fill="#fff" stroke="#333" stroke-width="0.55"/>
<circle cx="296.92" cy="244.2" r="1.55" fill="#fff" stroke="#333" stroke-width="0.55"/>
<circle cx="296.92" cy="246.2" r="1.55" fill="#fff" stroke="#333" stroke-width="0.55"/>
<circle cx="296.92" cy="250.6" r="1.55" fill="#fff" stroke="#333" stroke-width="0.55"/>
<circle cx="296.92" cy="266.9" r="1.55" fill="#fff" stroke="#333" stroke-width="0.55"/>
<circle cx="296.92" cy="278.1" r="1.55" fill="#fff" stroke="#333" stroke-width="0.55"/>
<circle cx="296.92" cy="255" r="1.7" fill="#000"/>
<circle cx="340.97" cy="245.4" r="1.55" fill="#fff" stroke="#333" stroke-width="0.55"/>
<circle cx="340.97" cy="250.2" r="1.55" fill="#fff" stroke="#333" stroke-width="0.55"/>
<circle cx="340.97" cy="257" r="1.55" fill="#fff" stroke="#333" stroke-width="0.55"/>
<circle cx="340.97" cy="264.6" r="1.55" fill="#fff" stroke="#333" stroke-width="0.55"/>
<circle cx="340.97" cy="269.8" r="1.55" fill="#fff" stroke="#333" stroke-width="0.55"/>
<circle cx="340.97" cy="257.7" r="1.7" fill="#000"/>
<circle cx="385.02" cy="249.2" r="1.55" fill="#fff" stroke="#333" stroke-width="0.55"/>
<circle cx="385.02" cy="250.3" r="1.55" fill="#fff" stroke="#333" stroke-width="0.55"/>
<circle cx="385.02" cy="251.2" r="1.55" fill="#fff" stroke="#333" stroke-width="0.55"/>
<circle cx="385.02" cy="252.1" r="1.55" fill="#fff" stroke="#333" stroke-width="0.55"/>
<circle cx="385.02" cy="263.1" r="1.55" fill="#fff" stroke="#333" stroke-width="0.55"/>
<circle cx="385.02" cy="275.2" r="1.55" fill="#fff" stroke="#333" stroke-width="0.55"/>
<circle cx="385.02" cy="256.9" r="1.7" fill="#000"/>
<circle cx="429.07" cy="240.4" r="1.55" fill="#fff" stroke="#333" stroke-width="0.55"/>
<circle cx="429.07" cy="250.2" r="1.55" fill="#fff" stroke="#333" stroke-width="0.55"/>
<circle cx="429.07" cy="253.5" r="1.55" fill="#fff" stroke="#333" stroke-width="0.55"/>
<circle cx="429.07" cy="263.1" r="1.55" fill="#fff" stroke="#333" stroke-width="0.55"/>
<circle cx="429.07" cy="275.6" r="1.55" fill="#fff" stroke="#333" stroke-width="0.55"/>
<circle cx="429.07" cy="255.4" r="1.7" fill="#000"/>
<rect x="266.2" y="226.6" width="176.2" height="141.9" fill="none" stroke="#262626" stroke-width="0.9"/>
<path d="M288.22 368.5v-2.0M288.22 226.6v2.0M332.27 368.5v-2.0M332.27 226.6v2.0M376.32 368.5v-2.0M376.32 226.6v2.0M420.38 368.5v-2.0M420.38 226.6v2.0M266.2 368.5h2.0M442.4 368.5h-2.0M266.2 350.76h2.0M442.4 350.76h-2.0M266.2 333.02h2.0M442.4 333.02h-2.0M266.2 315.29h2.0M442.4 315.29h-2.0M266.2 297.55h2.0M442.4 297.55h-2.0M266.2 279.81h2.0M442.4 279.81h-2.0M266.2 262.07h2.0M442.4 262.07h-2.0M266.2 244.34h2.0M442.4 244.34h-2.0M266.2 226.6h2.0M442.4 226.6h-2.0" stroke="#262626" stroke-width="0.9" fill="none"/>
<text x="263.7" y="370.9" text-anchor="end" font-size="6.8">0</text>
<text x="263.7" y="353.16" text-anchor="end" font-size="6.8">50</text>
<text x="263.7" y="335.42" text-anchor="end" font-size="6.8">100</text>
<text x="263.7" y="317.69" text-anchor="end" font-size="6.8">150</text>
<text x="263.7" y="299.95" text-anchor="end" font-size="6.8">200</text>
<text x="263.7" y="282.21" text-anchor="end" font-size="6.8">250</text>
<text x="263.7" y="264.47" text-anchor="end" font-size="6.8">300</text>
<text x="263.7" y="246.74" text-anchor="end" font-size="6.8">350</text>
<text x="263.7" y="229" text-anchor="end" font-size="6.8">400</text>
<polyline points="532.1,280.2 576.1,272.7 620.1,305.6 664.1,310" fill="none" stroke="#c8c8c8" stroke-width="0.5"/>
<polyline points="532.1,291.5 576.1,243.7 620.1,309.5 664.1,302.6" fill="none" stroke="#c8c8c8" stroke-width="0.5"/>
<polyline points="532.1,296.6 576.1,243.7 620.1,318 664.1,307.7" fill="none" stroke="#c8c8c8" stroke-width="0.5"/>
<polyline points="532.1,312.6 576.1,282.7 620.1,303.6 664.1,319" fill="none" stroke="#c8c8c8" stroke-width="0.5"/>
<polyline points="532.1,335 576.1,301.8 620.1,340.8 664.1,342.8" fill="none" stroke="#c8c8c8" stroke-width="0.5"/>
<polyline points="532.1,296 576.1,297.7 620.1,321 664.1,315" fill="none" stroke="#c8c8c8" stroke-width="0.5"/>
<line x1="523.5" y1="280.2" x2="523.5" y2="292.1" stroke="#111" stroke-width="0.8" stroke-dasharray="2.6 1.8"/>
<line x1="521.5" y1="280.2" x2="525.5" y2="280.2" stroke="#111" stroke-width="0.8"/>
<line x1="523.5" y1="312.6" x2="523.5" y2="335" stroke="#111" stroke-width="0.8" stroke-dasharray="2.6 1.8"/>
<line x1="521.5" y1="335" x2="525.5" y2="335" stroke="#111" stroke-width="0.8"/>
<rect x="518.9" y="292.1" width="9.2" height="20.5" fill="none" stroke="#111" stroke-width="0.8"/>
<line x1="518.9" y1="294.2" x2="528.1" y2="294.2" stroke="#111" stroke-width="0.8"/>
<line x1="567.5" y1="243.7" x2="567.5" y2="273.1" stroke="#3333ff" stroke-width="0.8" stroke-dasharray="2.6 1.8"/>
<line x1="565.5" y1="243.7" x2="569.5" y2="243.7" stroke="#3333ff" stroke-width="0.8"/>
<line x1="567.5" y1="297.7" x2="567.5" y2="301.8" stroke="#3333ff" stroke-width="0.8" stroke-dasharray="2.6 1.8"/>
<line x1="565.5" y1="301.8" x2="569.5" y2="301.8" stroke="#3333ff" stroke-width="0.8"/>
<rect x="562.9" y="273.1" width="9.2" height="24.6" fill="none" stroke="#3333ff" stroke-width="0.8"/>
<line x1="562.9" y1="282.7" x2="572.1" y2="282.7" stroke="#3333ff" stroke-width="0.8"/>
<line x1="611.5" y1="303.8" x2="611.5" y2="305.6" stroke="#ff3333" stroke-width="0.8" stroke-dasharray="2.6 1.8"/>
<line x1="609.5" y1="303.8" x2="613.5" y2="303.8" stroke="#ff3333" stroke-width="0.8"/>
<line x1="611.5" y1="321" x2="611.5" y2="340.8" stroke="#ff3333" stroke-width="0.8" stroke-dasharray="2.6 1.8"/>
<line x1="609.5" y1="340.8" x2="613.5" y2="340.8" stroke="#ff3333" stroke-width="0.8"/>
<rect x="606.9" y="305.6" width="9.2" height="15.4" fill="none" stroke="#ff3333" stroke-width="0.8"/>
<line x1="606.9" y1="314.1" x2="616.1" y2="314.1" stroke="#ff3333" stroke-width="0.8"/>
<line x1="655.5" y1="303.1" x2="655.5" y2="308.2" stroke="#33dd33" stroke-width="0.8" stroke-dasharray="2.6 1.8"/>
<line x1="653.5" y1="303.1" x2="657.5" y2="303.1" stroke="#33dd33" stroke-width="0.8"/>
<line x1="655.5" y1="319" x2="655.5" y2="342.3" stroke="#33dd33" stroke-width="0.8" stroke-dasharray="2.6 1.8"/>
<line x1="653.5" y1="342.3" x2="657.5" y2="342.3" stroke="#33dd33" stroke-width="0.8"/>
<rect x="650.9" y="308.2" width="9.2" height="10.8" fill="none" stroke="#33dd33" stroke-width="0.8"/>
<line x1="650.9" y1="309" x2="660.1" y2="309" stroke="#33dd33" stroke-width="0.8"/>
<circle cx="532.1" cy="280.2" r="1.55" fill="#fff" stroke="#333" stroke-width="0.55"/>
<circle cx="532.1" cy="291.5" r="1.55" fill="#fff" stroke="#333" stroke-width="0.55"/>
<circle cx="532.1" cy="296.6" r="1.55" fill="#fff" stroke="#333" stroke-width="0.55"/>
<circle cx="532.1" cy="312.6" r="1.55" fill="#fff" stroke="#333" stroke-width="0.55"/>
<circle cx="532.1" cy="335" r="1.55" fill="#fff" stroke="#333" stroke-width="0.55"/>
<circle cx="532.1" cy="301.8" r="1.7" fill="#000"/>
<circle cx="576.1" cy="243.7" r="1.55" fill="#fff" stroke="#333" stroke-width="0.55"/>
<circle cx="576.1" cy="272.7" r="1.55" fill="#fff" stroke="#333" stroke-width="0.55"/>
<circle cx="576.1" cy="282.7" r="1.55" fill="#fff" stroke="#333" stroke-width="0.55"/>
<circle cx="576.1" cy="297.7" r="1.55" fill="#fff" stroke="#333" stroke-width="0.55"/>
<circle cx="576.1" cy="301.8" r="1.55" fill="#fff" stroke="#333" stroke-width="0.55"/>
<circle cx="576.1" cy="279.8" r="1.7" fill="#000"/>
<circle cx="620.1" cy="303.6" r="1.55" fill="#fff" stroke="#333" stroke-width="0.55"/>
<circle cx="620.1" cy="305.6" r="1.55" fill="#fff" stroke="#333" stroke-width="0.55"/>
<circle cx="620.1" cy="309.5" r="1.55" fill="#fff" stroke="#333" stroke-width="0.55"/>
<circle cx="620.1" cy="318" r="1.55" fill="#fff" stroke="#333" stroke-width="0.55"/>
<circle cx="620.1" cy="321" r="1.55" fill="#fff" stroke="#333" stroke-width="0.55"/>
<circle cx="620.1" cy="340.8" r="1.55" fill="#fff" stroke="#333" stroke-width="0.55"/>
<circle cx="620.1" cy="316.7" r="1.7" fill="#000"/>
<circle cx="664.1" cy="302.6" r="1.55" fill="#fff" stroke="#333" stroke-width="0.55"/>
<circle cx="664.1" cy="307.7" r="1.55" fill="#fff" stroke="#333" stroke-width="0.55"/>
<circle cx="664.1" cy="310" r="1.55" fill="#fff" stroke="#333" stroke-width="0.55"/>
<circle cx="664.1" cy="319" r="1.55" fill="#fff" stroke="#333" stroke-width="0.55"/>
<circle cx="664.1" cy="342.8" r="1.55" fill="#fff" stroke="#333" stroke-width="0.55"/>
<circle cx="664.1" cy="315.1" r="1.7" fill="#000"/>
<line x1="567" y1="232.3" x2="654.9" y2="232.3" stroke="#555" stroke-width="0.9"/>
<text x="612.2" y="233.82" text-anchor="middle" font-size="9.8" font-weight="bold">*</text>
<line x1="567" y1="238.2" x2="611.4" y2="238.2" stroke="#555" stroke-width="0.9"/>
<text x="589.5" y="239.72" text-anchor="middle" font-size="9.8" font-weight="bold">*</text>
<rect x="501.5" y="226.5" width="176" height="142" fill="none" stroke="#262626" stroke-width="0.9"/>
<path d="M523.5 368.5v-2.0M523.5 226.5v2.0M567.5 368.5v-2.0M567.5 226.5v2.0M611.5 368.5v-2.0M611.5 226.5v2.0M655.5 368.5v-2.0M655.5 226.5v2.0M501.5 368.5h2.0M677.5 368.5h-2.0M501.5 340.1h2.0M677.5 340.1h-2.0M501.5 311.7h2.0M677.5 311.7h-2.0M501.5 283.3h2.0M677.5 283.3h-2.0M501.5 254.9h2.0M677.5 254.9h-2.0M501.5 226.5h2.0M677.5 226.5h-2.0" stroke="#262626" stroke-width="0.9" fill="none"/>
<text x="499" y="370.9" text-anchor="end" font-size="6.8">0</text>
<text x="499" y="342.5" text-anchor="end" font-size="6.8">50</text>
<text x="499" y="314.1" text-anchor="end" font-size="6.8">100</text>
<text x="499" y="285.7" text-anchor="end" font-size="6.8">150</text>
<text x="499" y="257.3" text-anchor="end" font-size="6.8">200</text>
<text x="499" y="228.9" text-anchor="end" font-size="6.8">250</text>
<text transform="translate(5.9,164.4) rotate(-90)" font-size="7.4" textLength="102.2" lengthAdjust="spacingAndGlyphs">Ball angular velocity ω<tspan font-size="6.6" dy="4.0">ball</tspan><tspan dy="-4.0">, rad/s</tspan></text>
<text transform="translate(5.9,370) rotate(-90)" font-size="7.4" textLength="147.8" lengthAdjust="spacingAndGlyphs">Maximum ball angular velocity ω<tspan font-size="6.6" dy="4.0">ball max</tspan><tspan dy="-4.0">, rad/s</tspan></text>
<text transform="translate(237,161.3) rotate(-90)" font-size="7.4" textLength="94.5" lengthAdjust="spacingAndGlyphs">Angular velocity of the vector</text>
<text transform="translate(245.8,174) rotate(-90)" font-size="7.4" textLength="119.5" lengthAdjust="spacingAndGlyphs">from ball center to fingertip ω<tspan font-size="6.6" dy="4.0">fc</tspan><tspan dy="-4.0">, rad/s</tspan></text>
<text transform="translate(237,362.8) rotate(-90)" font-size="7.4" textLength="129.1" lengthAdjust="spacingAndGlyphs">Maximum angular velocity of the vector</text>
<text transform="translate(245.8,364.7) rotate(-90)" font-size="7.4" textLength="133.6" lengthAdjust="spacingAndGlyphs">from ball center to fingertip ω<tspan font-size="6.6" dy="4.0">fc max</tspan><tspan dy="-4.0">, rad/s</tspan></text>
<text transform="translate(472.6,161.3) rotate(-90)" font-size="7.4" textLength="94.8" lengthAdjust="spacingAndGlyphs">Difference in angular velocity</text>
<text transform="translate(480.8,138) rotate(-90)" font-size="7.4" textLength="35" lengthAdjust="spacingAndGlyphs">Δω<tspan font-size="6.6" dy="4.0">fb</tspan><tspan dy="-4.0">, rad/s</tspan></text>
<text transform="translate(472.6,361.4) rotate(-90)" font-size="7.4" textLength="127.7" lengthAdjust="spacingAndGlyphs">Maximum difference in angular velocity</text>
<text transform="translate(480.8,333.2) rotate(-90)" font-size="7.4" textLength="49.4" lengthAdjust="spacingAndGlyphs">Δω<tspan font-size="6.6" dy="4.0">fb max</tspan><tspan dy="-4.0">, rad/s</tspan></text>
<text x="49.4" y="377.7" text-anchor="middle" font-size="7.4">No</text>
<text x="48.6" y="386.4" text-anchor="middle" font-size="7.4">application</text>
<text x="94.2" y="377.7" text-anchor="middle" font-size="7.4">Water</text>
<text x="92.3" y="386.4" text-anchor="middle" font-size="7.4">application</text>
<text x="143" y="377.7" text-anchor="middle" font-size="7.4">Rosin powder</text>
<text x="141.9" y="386.4" text-anchor="middle" font-size="7.4">application</text>
<text x="187.9" y="377.7" text-anchor="middle" font-size="7.4">Pine resin</text>
<text x="187.6" y="386.4" text-anchor="middle" font-size="7.4">application</text>
<text x="290.7" y="379.1" text-anchor="middle" font-size="7.4">No</text>
<text x="290.1" y="387.4" text-anchor="middle" font-size="7.4">application</text>
<text x="334.3" y="379.1" text-anchor="middle" font-size="7.4">Water</text>
<text x="333.6" y="387.4" text-anchor="middle" font-size="7.4">application</text>
<text x="378.8" y="379.1" text-anchor="middle" font-size="7.4">Rosin-powder</text>
<text x="375" y="387.4" text-anchor="middle" font-size="7.4">application</text>
<text x="422.3" y="379.1" text-anchor="middle" font-size="7.4">Pine-resin</text>
<text x="416.4" y="387.4" text-anchor="middle" font-size="7.4">application</text>
<text x="521.5" y="379.1" text-anchor="middle" font-size="7.4">No</text>
<text x="521.4" y="387.4" text-anchor="middle" font-size="7.4">application</text>
<text x="566.2" y="379.1" text-anchor="middle" font-size="7.4">Water</text>
<text x="565" y="387.4" text-anchor="middle" font-size="7.4">application</text>
<text x="615.3" y="379.1" text-anchor="middle" font-size="7.4">Rosin-powder</text>
<text x="614.5" y="387.4" text-anchor="middle" font-size="7.4">application</text>
<text x="660.7" y="379.1" text-anchor="middle" font-size="7.4">Pine-resin</text>
<text x="659.8" y="387.4" text-anchor="middle" font-size="7.4">application</text>
</svg>
</body></html>
